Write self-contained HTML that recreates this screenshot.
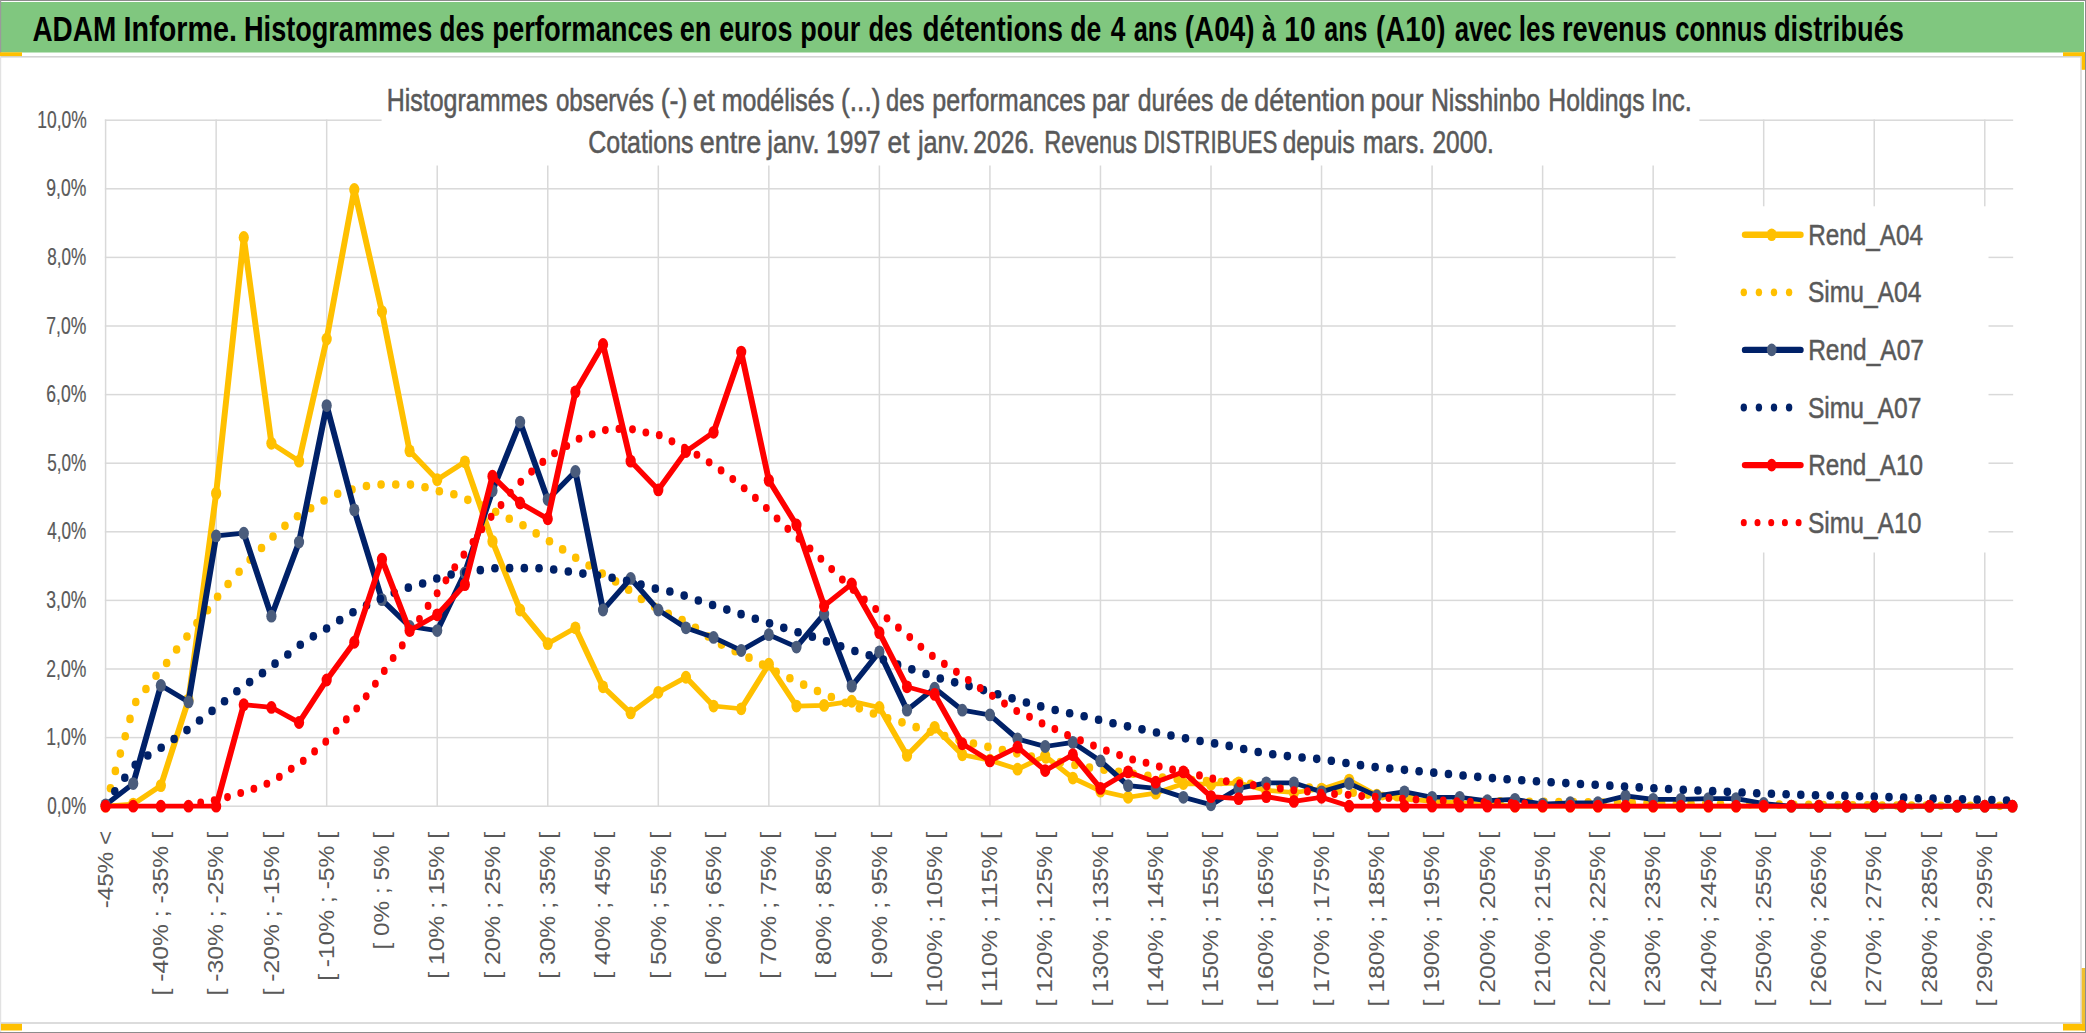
<!DOCTYPE html>
<html><head><meta charset="utf-8"><title>ADAM Informe</title>
<style>html,body{margin:0;padding:0;background:#fff;width:2086px;height:1033px;overflow:hidden}</style>
</head><body>
<svg width="2086" height="1033" viewBox="0 0 2086 1033" style="display:block;font-family:'Liberation Sans',sans-serif">
<rect x="0" y="0" width="2086" height="1033" fill="#FFFFFF"/>
<rect x="0" y="0" width="2086" height="1" fill="#8C8C8C"/>
<rect x="1" y="2" width="2083" height="50.5" fill="#80C77F"/>
<rect x="0" y="0" width="1.2" height="53" fill="#9A9A9A"/>
<rect x="0" y="53" width="1.2" height="980" fill="#E2E2E2"/>
<rect x="2085" y="0" width="1" height="1033" fill="#8C8C8C"/>
<rect x="0" y="1032" width="2086" height="1" fill="#8C8C8C"/>
<rect x="1" y="56" width="2080" height="1.6" fill="#D4D4D4"/>
<rect x="1" y="1022.2" width="2080" height="1.6" fill="#D4D4D4"/>
<rect x="2080.3" y="56" width="1.4" height="967" fill="#D4D4D4"/>
<rect x="0" y="52.3" width="22" height="3.8" fill="#FFC000"/>
<rect x="2063" y="52.3" width="22" height="3.8" fill="#FFC000"/>
<rect x="2081.7" y="52.3" width="3.3" height="17.5" fill="#FFC000"/>
<rect x="2081.7" y="968" width="3.3" height="62.5" fill="#F0C030"/>
<rect x="1" y="1023.8" width="21" height="6.7" fill="#FFC000"/>
<rect x="2063" y="1023.8" width="22" height="6.7" fill="#FFC000"/>
<rect x="104.85" y="805.45" width="1908.32" height="1.5" fill="#D9D9D9"/>
<rect x="104.85" y="736.85" width="1908.32" height="1.5" fill="#D9D9D9"/>
<rect x="104.85" y="668.25" width="1908.32" height="1.5" fill="#D9D9D9"/>
<rect x="104.85" y="599.65" width="1908.32" height="1.5" fill="#D9D9D9"/>
<rect x="104.85" y="531.05" width="1908.32" height="1.5" fill="#D9D9D9"/>
<rect x="104.85" y="462.45" width="1908.32" height="1.5" fill="#D9D9D9"/>
<rect x="104.85" y="393.85" width="1908.32" height="1.5" fill="#D9D9D9"/>
<rect x="104.85" y="325.25" width="1908.32" height="1.5" fill="#D9D9D9"/>
<rect x="104.85" y="256.65" width="1908.32" height="1.5" fill="#D9D9D9"/>
<rect x="104.85" y="188.05" width="1908.32" height="1.5" fill="#D9D9D9"/>
<rect x="104.85" y="119.45" width="1908.32" height="1.5" fill="#D9D9D9"/>
<rect x="104.85" y="119.45" width="1.5" height="687.50" fill="#D9D9D9"/>
<rect x="215.39" y="119.45" width="1.5" height="687.50" fill="#D9D9D9"/>
<rect x="325.93" y="119.45" width="1.5" height="687.50" fill="#D9D9D9"/>
<rect x="436.47" y="119.45" width="1.5" height="687.50" fill="#D9D9D9"/>
<rect x="547.01" y="119.45" width="1.5" height="687.50" fill="#D9D9D9"/>
<rect x="657.55" y="119.45" width="1.5" height="687.50" fill="#D9D9D9"/>
<rect x="768.09" y="119.45" width="1.5" height="687.50" fill="#D9D9D9"/>
<rect x="878.63" y="119.45" width="1.5" height="687.50" fill="#D9D9D9"/>
<rect x="989.17" y="119.45" width="1.5" height="687.50" fill="#D9D9D9"/>
<rect x="1099.71" y="119.45" width="1.5" height="687.50" fill="#D9D9D9"/>
<rect x="1210.25" y="119.45" width="1.5" height="687.50" fill="#D9D9D9"/>
<rect x="1320.79" y="119.45" width="1.5" height="687.50" fill="#D9D9D9"/>
<rect x="1431.33" y="119.45" width="1.5" height="687.50" fill="#D9D9D9"/>
<rect x="1541.87" y="119.45" width="1.5" height="687.50" fill="#D9D9D9"/>
<rect x="1652.41" y="119.45" width="1.5" height="687.50" fill="#D9D9D9"/>
<rect x="1762.95" y="119.45" width="1.5" height="687.50" fill="#D9D9D9"/>
<rect x="1873.49" y="119.45" width="1.5" height="687.50" fill="#D9D9D9"/>
<rect x="1984.03" y="119.45" width="1.5" height="687.50" fill="#D9D9D9"/>
<rect x="381.6" y="80" width="1317.8" height="85.5" fill="#FFFFFF"/>
<rect x="1675.6" y="206.3" width="312.9" height="346.2" fill="#FFFFFF"/>
<text x="32.40" y="40.90" font-size="34.50" fill="#000000" font-weight="bold" textLength="83.80" lengthAdjust="spacingAndGlyphs">ADAM</text>
<text x="123.60" y="40.90" font-size="34.50" fill="#000000" font-weight="bold" textLength="113.40" lengthAdjust="spacingAndGlyphs">Informe.</text>
<text x="244.05" y="40.90" font-size="34.50" fill="#000000" font-weight="bold" textLength="188.20" lengthAdjust="spacingAndGlyphs">Histogrammes</text>
<text x="439.55" y="40.90" font-size="34.50" fill="#000000" font-weight="bold" textLength="44.80" lengthAdjust="spacingAndGlyphs">des</text>
<text x="492.25" y="40.90" font-size="34.50" fill="#000000" font-weight="bold" textLength="181.00" lengthAdjust="spacingAndGlyphs">performances</text>
<text x="679.75" y="40.90" font-size="34.50" fill="#000000" font-weight="bold" textLength="31.60" lengthAdjust="spacingAndGlyphs">en</text>
<text x="719.15" y="40.90" font-size="34.50" fill="#000000" font-weight="bold" textLength="73.20" lengthAdjust="spacingAndGlyphs">euros</text>
<text x="800.30" y="40.90" font-size="34.50" fill="#000000" font-weight="bold" textLength="60.00" lengthAdjust="spacingAndGlyphs">pour</text>
<text x="868.60" y="40.90" font-size="34.50" fill="#000000" font-weight="bold" textLength="44.00" lengthAdjust="spacingAndGlyphs">des</text>
<text x="922.45" y="40.90" font-size="34.50" fill="#000000" font-weight="bold" textLength="140.60" lengthAdjust="spacingAndGlyphs">détentions</text>
<text x="1070.30" y="40.90" font-size="34.50" fill="#000000" font-weight="bold" textLength="31.00" lengthAdjust="spacingAndGlyphs">de</text>
<text x="1110.75" y="40.90" font-size="34.50" fill="#000000" font-weight="bold" textLength="14.60" lengthAdjust="spacingAndGlyphs">4</text>
<text x="1133.65" y="40.90" font-size="34.50" fill="#000000" font-weight="bold" textLength="43.60" lengthAdjust="spacingAndGlyphs">ans</text>
<text x="1184.80" y="40.90" font-size="34.50" fill="#000000" font-weight="bold" textLength="69.80" lengthAdjust="spacingAndGlyphs">(A04)</text>
<text x="1262.00" y="40.90" font-size="34.50" fill="#000000" font-weight="bold" textLength="13.80" lengthAdjust="spacingAndGlyphs">à</text>
<text x="1284.30" y="40.90" font-size="34.50" fill="#000000" font-weight="bold" textLength="31.20" lengthAdjust="spacingAndGlyphs">10</text>
<text x="1324.30" y="40.90" font-size="34.50" fill="#000000" font-weight="bold" textLength="43.00" lengthAdjust="spacingAndGlyphs">ans</text>
<text x="1376.05" y="40.90" font-size="34.50" fill="#000000" font-weight="bold" textLength="69.40" lengthAdjust="spacingAndGlyphs">(A10)</text>
<text x="1454.70" y="40.90" font-size="34.50" fill="#000000" font-weight="bold" textLength="57.20" lengthAdjust="spacingAndGlyphs">avec</text>
<text x="1518.80" y="40.90" font-size="34.50" fill="#000000" font-weight="bold" textLength="36.40" lengthAdjust="spacingAndGlyphs">les</text>
<text x="1562.00" y="40.90" font-size="34.50" fill="#000000" font-weight="bold" textLength="104.60" lengthAdjust="spacingAndGlyphs">revenus</text>
<text x="1675.25" y="40.90" font-size="34.50" fill="#000000" font-weight="bold" textLength="91.60" lengthAdjust="spacingAndGlyphs">connus</text>
<text x="1773.90" y="40.90" font-size="34.50" fill="#000000" font-weight="bold" textLength="130.00" lengthAdjust="spacingAndGlyphs">distribués</text>
<text x="386.70" y="111.00" font-size="31.00" fill="#595959" stroke="#595959" stroke-width="0.55" font-weight="normal" textLength="161.00" lengthAdjust="spacingAndGlyphs">Histogrammes</text>
<text x="555.95" y="111.00" font-size="31.00" fill="#595959" stroke="#595959" stroke-width="0.55" font-weight="normal" textLength="98.00" lengthAdjust="spacingAndGlyphs">observés</text>
<text x="660.65" y="111.00" font-size="31.00" fill="#595959" stroke="#595959" stroke-width="0.55" font-weight="normal" textLength="26.80" lengthAdjust="spacingAndGlyphs">(-)</text>
<text x="693.05" y="111.00" font-size="31.00" fill="#595959" stroke="#595959" stroke-width="0.55" font-weight="normal" textLength="21.60" lengthAdjust="spacingAndGlyphs">et</text>
<text x="721.65" y="111.00" font-size="31.00" fill="#595959" stroke="#595959" stroke-width="0.55" font-weight="normal" textLength="112.60" lengthAdjust="spacingAndGlyphs">modélisés</text>
<text x="841.05" y="111.00" font-size="31.00" fill="#595959" stroke="#595959" stroke-width="0.55" font-weight="normal" textLength="39.40" lengthAdjust="spacingAndGlyphs">(...)</text>
<text x="886.10" y="111.00" font-size="31.00" fill="#595959" stroke="#595959" stroke-width="0.55" font-weight="normal" textLength="38.20" lengthAdjust="spacingAndGlyphs">des</text>
<text x="932.25" y="111.00" font-size="31.00" fill="#595959" stroke="#595959" stroke-width="0.55" font-weight="normal" textLength="153.40" lengthAdjust="spacingAndGlyphs">performances</text>
<text x="1092.10" y="111.00" font-size="31.00" fill="#595959" stroke="#595959" stroke-width="0.55" font-weight="normal" textLength="37.40" lengthAdjust="spacingAndGlyphs">par</text>
<text x="1137.80" y="111.00" font-size="31.00" fill="#595959" stroke="#595959" stroke-width="0.55" font-weight="normal" textLength="75.60" lengthAdjust="spacingAndGlyphs">durées</text>
<text x="1220.75" y="111.00" font-size="31.00" fill="#595959" stroke="#595959" stroke-width="0.55" font-weight="normal" textLength="27.60" lengthAdjust="spacingAndGlyphs">de</text>
<text x="1254.35" y="111.00" font-size="31.00" fill="#595959" stroke="#595959" stroke-width="0.55" font-weight="normal" textLength="110.60" lengthAdjust="spacingAndGlyphs">détention</text>
<text x="1370.75" y="111.00" font-size="31.00" fill="#595959" stroke="#595959" stroke-width="0.55" font-weight="normal" textLength="52.80" lengthAdjust="spacingAndGlyphs">pour</text>
<text x="1430.90" y="111.00" font-size="31.00" fill="#595959" stroke="#595959" stroke-width="0.55" font-weight="normal" textLength="109.20" lengthAdjust="spacingAndGlyphs">Nisshinbo</text>
<text x="1548.30" y="111.00" font-size="31.00" fill="#595959" stroke="#595959" stroke-width="0.55" font-weight="normal" textLength="96.40" lengthAdjust="spacingAndGlyphs">Holdings</text>
<text x="1650.90" y="111.00" font-size="31.00" fill="#595959" stroke="#595959" stroke-width="0.55" font-weight="normal" textLength="41.00" lengthAdjust="spacingAndGlyphs">Inc.</text>
<text x="588.30" y="152.90" font-size="31.00" fill="#595959" stroke="#595959" stroke-width="0.55" font-weight="normal" textLength="105.20" lengthAdjust="spacingAndGlyphs">Cotations</text>
<text x="699.85" y="152.90" font-size="31.00" fill="#595959" stroke="#595959" stroke-width="0.55" font-weight="normal" textLength="61.40" lengthAdjust="spacingAndGlyphs">entre</text>
<text x="767.30" y="152.90" font-size="31.00" fill="#595959" stroke="#595959" stroke-width="0.55" font-weight="normal" textLength="52.40" lengthAdjust="spacingAndGlyphs">janv.</text>
<text x="826.10" y="152.90" font-size="31.00" fill="#595959" stroke="#595959" stroke-width="0.55" font-weight="normal" textLength="54.60" lengthAdjust="spacingAndGlyphs">1997</text>
<text x="887.50" y="152.90" font-size="31.00" fill="#595959" stroke="#595959" stroke-width="0.55" font-weight="normal" textLength="22.00" lengthAdjust="spacingAndGlyphs">et</text>
<text x="917.95" y="152.90" font-size="31.00" fill="#595959" stroke="#595959" stroke-width="0.55" font-weight="normal" textLength="51.40" lengthAdjust="spacingAndGlyphs">janv.</text>
<text x="973.35" y="152.90" font-size="31.00" fill="#595959" stroke="#595959" stroke-width="0.55" font-weight="normal" textLength="61.60" lengthAdjust="spacingAndGlyphs">2026.</text>
<text x="1044.20" y="152.90" font-size="31.00" fill="#595959" stroke="#595959" stroke-width="0.55" font-weight="normal" textLength="92.80" lengthAdjust="spacingAndGlyphs">Revenus</text>
<text x="1143.50" y="152.90" font-size="31.00" fill="#595959" stroke="#595959" stroke-width="0.55" font-weight="normal" textLength="133.80" lengthAdjust="spacingAndGlyphs">DISTRIBUES</text>
<text x="1282.70" y="152.90" font-size="31.00" fill="#595959" stroke="#595959" stroke-width="0.55" font-weight="normal" textLength="72.00" lengthAdjust="spacingAndGlyphs">depuis</text>
<text x="1362.75" y="152.90" font-size="31.00" fill="#595959" stroke="#595959" stroke-width="0.55" font-weight="normal" textLength="62.40" lengthAdjust="spacingAndGlyphs">mars.</text>
<text x="1432.45" y="152.90" font-size="31.00" fill="#595959" stroke="#595959" stroke-width="0.55" font-weight="normal" textLength="61.40" lengthAdjust="spacingAndGlyphs">2000.</text>
<text x="47.30" y="813.80" font-size="23.40" fill="#595959" stroke="#595959" stroke-width="0.2" font-weight="normal" textLength="39.00" lengthAdjust="spacingAndGlyphs">0,0%</text>
<text x="46.30" y="745.20" font-size="23.40" fill="#595959" stroke="#595959" stroke-width="0.2" font-weight="normal" textLength="40.00" lengthAdjust="spacingAndGlyphs">1,0%</text>
<text x="46.30" y="676.60" font-size="23.40" fill="#595959" stroke="#595959" stroke-width="0.2" font-weight="normal" textLength="40.00" lengthAdjust="spacingAndGlyphs">2,0%</text>
<text x="46.30" y="608.00" font-size="23.40" fill="#595959" stroke="#595959" stroke-width="0.2" font-weight="normal" textLength="40.00" lengthAdjust="spacingAndGlyphs">3,0%</text>
<text x="47.30" y="539.40" font-size="23.40" fill="#595959" stroke="#595959" stroke-width="0.2" font-weight="normal" textLength="39.00" lengthAdjust="spacingAndGlyphs">4,0%</text>
<text x="47.30" y="470.80" font-size="23.40" fill="#595959" stroke="#595959" stroke-width="0.2" font-weight="normal" textLength="39.00" lengthAdjust="spacingAndGlyphs">5,0%</text>
<text x="46.30" y="402.20" font-size="23.40" fill="#595959" stroke="#595959" stroke-width="0.2" font-weight="normal" textLength="40.00" lengthAdjust="spacingAndGlyphs">6,0%</text>
<text x="46.30" y="333.60" font-size="23.40" fill="#595959" stroke="#595959" stroke-width="0.2" font-weight="normal" textLength="40.00" lengthAdjust="spacingAndGlyphs">7,0%</text>
<text x="47.30" y="265.00" font-size="23.40" fill="#595959" stroke="#595959" stroke-width="0.2" font-weight="normal" textLength="39.00" lengthAdjust="spacingAndGlyphs">8,0%</text>
<text x="46.30" y="196.40" font-size="23.40" fill="#595959" stroke="#595959" stroke-width="0.2" font-weight="normal" textLength="40.00" lengthAdjust="spacingAndGlyphs">9,0%</text>
<text x="37.30" y="127.80" font-size="23.40" fill="#595959" stroke="#595959" stroke-width="0.2" font-weight="normal" textLength="49.40" lengthAdjust="spacingAndGlyphs">10,0%</text>
<text x="1808.20" y="244.70" font-size="29.80" fill="#595959" stroke="#595959" stroke-width="0.5" font-weight="normal" textLength="114.70" lengthAdjust="spacingAndGlyphs">Rend_A04</text>
<text x="1807.90" y="302.30" font-size="29.80" fill="#595959" stroke="#595959" stroke-width="0.5" font-weight="normal" textLength="113.50" lengthAdjust="spacingAndGlyphs">Simu_A04</text>
<text x="1808.20" y="359.90" font-size="29.80" fill="#595959" stroke="#595959" stroke-width="0.5" font-weight="normal" textLength="115.70" lengthAdjust="spacingAndGlyphs">Rend_A07</text>
<text x="1807.90" y="417.50" font-size="29.80" fill="#595959" stroke="#595959" stroke-width="0.5" font-weight="normal" textLength="113.50" lengthAdjust="spacingAndGlyphs">Simu_A07</text>
<text x="1808.20" y="475.10" font-size="29.80" fill="#595959" stroke="#595959" stroke-width="0.5" font-weight="normal" textLength="114.70" lengthAdjust="spacingAndGlyphs">Rend_A10</text>
<text x="1807.90" y="532.70" font-size="29.80" fill="#595959" stroke="#595959" stroke-width="0.5" font-weight="normal" textLength="113.50" lengthAdjust="spacingAndGlyphs">Simu_A10</text>
<text transform="translate(112.80,831.00) rotate(-90)" x="0" y="0" font-size="21.40" fill="#595959" text-anchor="end" textLength="77.20" lengthAdjust="spacingAndGlyphs">-45% &lt;</text>
<text transform="translate(168.07,832.00) rotate(-90)" x="0" y="0" font-size="21.40" fill="#595959" text-anchor="end" textLength="163.40" lengthAdjust="spacingAndGlyphs">[ -40% ; -35% [</text>
<text transform="translate(223.34,832.00) rotate(-90)" x="0" y="0" font-size="21.40" fill="#595959" text-anchor="end" textLength="163.40" lengthAdjust="spacingAndGlyphs">[ -30% ; -25% [</text>
<text transform="translate(278.61,832.00) rotate(-90)" x="0" y="0" font-size="21.40" fill="#595959" text-anchor="end" textLength="163.40" lengthAdjust="spacingAndGlyphs">[ -20% ; -15% [</text>
<text transform="translate(333.88,832.00) rotate(-90)" x="0" y="0" font-size="21.40" fill="#595959" text-anchor="end" textLength="148.80" lengthAdjust="spacingAndGlyphs">[ -10% ; -5% [</text>
<text transform="translate(389.15,832.00) rotate(-90)" x="0" y="0" font-size="21.40" fill="#595959" text-anchor="end" textLength="117.40" lengthAdjust="spacingAndGlyphs">[ 0% ; 5% [</text>
<text transform="translate(444.42,832.00) rotate(-90)" x="0" y="0" font-size="21.40" fill="#595959" text-anchor="end" textLength="146.80" lengthAdjust="spacingAndGlyphs">[ 10% ; 15% [</text>
<text transform="translate(499.69,832.00) rotate(-90)" x="0" y="0" font-size="21.40" fill="#595959" text-anchor="end" textLength="146.80" lengthAdjust="spacingAndGlyphs">[ 20% ; 25% [</text>
<text transform="translate(554.96,832.00) rotate(-90)" x="0" y="0" font-size="21.40" fill="#595959" text-anchor="end" textLength="146.80" lengthAdjust="spacingAndGlyphs">[ 30% ; 35% [</text>
<text transform="translate(610.23,832.00) rotate(-90)" x="0" y="0" font-size="21.40" fill="#595959" text-anchor="end" textLength="146.80" lengthAdjust="spacingAndGlyphs">[ 40% ; 45% [</text>
<text transform="translate(665.50,832.00) rotate(-90)" x="0" y="0" font-size="21.40" fill="#595959" text-anchor="end" textLength="146.80" lengthAdjust="spacingAndGlyphs">[ 50% ; 55% [</text>
<text transform="translate(720.77,832.00) rotate(-90)" x="0" y="0" font-size="21.40" fill="#595959" text-anchor="end" textLength="146.80" lengthAdjust="spacingAndGlyphs">[ 60% ; 65% [</text>
<text transform="translate(776.04,832.00) rotate(-90)" x="0" y="0" font-size="21.40" fill="#595959" text-anchor="end" textLength="146.80" lengthAdjust="spacingAndGlyphs">[ 70% ; 75% [</text>
<text transform="translate(831.31,832.00) rotate(-90)" x="0" y="0" font-size="21.40" fill="#595959" text-anchor="end" textLength="146.80" lengthAdjust="spacingAndGlyphs">[ 80% ; 85% [</text>
<text transform="translate(886.58,832.00) rotate(-90)" x="0" y="0" font-size="21.40" fill="#595959" text-anchor="end" textLength="146.80" lengthAdjust="spacingAndGlyphs">[ 90% ; 95% [</text>
<text transform="translate(941.85,832.00) rotate(-90)" x="0" y="0" font-size="21.40" fill="#595959" text-anchor="end" textLength="174.40" lengthAdjust="spacingAndGlyphs">[ 100% ; 105% [</text>
<text transform="translate(997.12,832.00) rotate(-90)" x="0" y="0" font-size="21.40" fill="#595959" text-anchor="end" textLength="174.40" lengthAdjust="spacingAndGlyphs">[ 110% ; 115% [</text>
<text transform="translate(1052.39,832.00) rotate(-90)" x="0" y="0" font-size="21.40" fill="#595959" text-anchor="end" textLength="174.40" lengthAdjust="spacingAndGlyphs">[ 120% ; 125% [</text>
<text transform="translate(1107.66,832.00) rotate(-90)" x="0" y="0" font-size="21.40" fill="#595959" text-anchor="end" textLength="174.40" lengthAdjust="spacingAndGlyphs">[ 130% ; 135% [</text>
<text transform="translate(1162.93,832.00) rotate(-90)" x="0" y="0" font-size="21.40" fill="#595959" text-anchor="end" textLength="174.40" lengthAdjust="spacingAndGlyphs">[ 140% ; 145% [</text>
<text transform="translate(1218.20,832.00) rotate(-90)" x="0" y="0" font-size="21.40" fill="#595959" text-anchor="end" textLength="174.40" lengthAdjust="spacingAndGlyphs">[ 150% ; 155% [</text>
<text transform="translate(1273.47,832.00) rotate(-90)" x="0" y="0" font-size="21.40" fill="#595959" text-anchor="end" textLength="174.40" lengthAdjust="spacingAndGlyphs">[ 160% ; 165% [</text>
<text transform="translate(1328.74,832.00) rotate(-90)" x="0" y="0" font-size="21.40" fill="#595959" text-anchor="end" textLength="174.40" lengthAdjust="spacingAndGlyphs">[ 170% ; 175% [</text>
<text transform="translate(1384.01,832.00) rotate(-90)" x="0" y="0" font-size="21.40" fill="#595959" text-anchor="end" textLength="174.40" lengthAdjust="spacingAndGlyphs">[ 180% ; 185% [</text>
<text transform="translate(1439.28,832.00) rotate(-90)" x="0" y="0" font-size="21.40" fill="#595959" text-anchor="end" textLength="174.40" lengthAdjust="spacingAndGlyphs">[ 190% ; 195% [</text>
<text transform="translate(1494.55,832.00) rotate(-90)" x="0" y="0" font-size="21.40" fill="#595959" text-anchor="end" textLength="174.40" lengthAdjust="spacingAndGlyphs">[ 200% ; 205% [</text>
<text transform="translate(1549.82,832.00) rotate(-90)" x="0" y="0" font-size="21.40" fill="#595959" text-anchor="end" textLength="174.40" lengthAdjust="spacingAndGlyphs">[ 210% ; 215% [</text>
<text transform="translate(1605.09,832.00) rotate(-90)" x="0" y="0" font-size="21.40" fill="#595959" text-anchor="end" textLength="174.40" lengthAdjust="spacingAndGlyphs">[ 220% ; 225% [</text>
<text transform="translate(1660.36,832.00) rotate(-90)" x="0" y="0" font-size="21.40" fill="#595959" text-anchor="end" textLength="174.40" lengthAdjust="spacingAndGlyphs">[ 230% ; 235% [</text>
<text transform="translate(1715.63,832.00) rotate(-90)" x="0" y="0" font-size="21.40" fill="#595959" text-anchor="end" textLength="174.40" lengthAdjust="spacingAndGlyphs">[ 240% ; 245% [</text>
<text transform="translate(1770.90,832.00) rotate(-90)" x="0" y="0" font-size="21.40" fill="#595959" text-anchor="end" textLength="174.40" lengthAdjust="spacingAndGlyphs">[ 250% ; 255% [</text>
<text transform="translate(1826.17,832.00) rotate(-90)" x="0" y="0" font-size="21.40" fill="#595959" text-anchor="end" textLength="174.40" lengthAdjust="spacingAndGlyphs">[ 260% ; 265% [</text>
<text transform="translate(1881.44,832.00) rotate(-90)" x="0" y="0" font-size="21.40" fill="#595959" text-anchor="end" textLength="174.40" lengthAdjust="spacingAndGlyphs">[ 270% ; 275% [</text>
<text transform="translate(1936.71,832.00) rotate(-90)" x="0" y="0" font-size="21.40" fill="#595959" text-anchor="end" textLength="174.40" lengthAdjust="spacingAndGlyphs">[ 280% ; 285% [</text>
<text transform="translate(1991.98,832.00) rotate(-90)" x="0" y="0" font-size="21.40" fill="#595959" text-anchor="end" textLength="174.40" lengthAdjust="spacingAndGlyphs">[ 290% ; 295% [</text>
<g transform="scale(1,0.78)"><polyline points="105.60,1033.59 133.23,1030.95 160.87,1007.21 188.50,897.27 216.14,632.54 243.78,304.49 271.41,568.34 299.05,591.21 326.68,434.66 354.31,242.93 381.95,399.48 409.59,578.02 437.22,614.95 464.86,592.09 492.49,694.11 520.12,782.06 547.76,825.15 575.39,804.92 603.03,880.56 630.67,913.98 658.30,887.59 685.94,868.25 713.57,905.18 741.21,908.70 768.84,851.54 796.48,905.18 824.11,904.31 851.75,899.03 879.38,906.94 907.02,968.51 934.65,932.45 962.29,967.63 989.92,974.66 1017.56,986.10 1045.19,969.39 1072.83,997.53 1100.46,1014.24 1128.10,1022.16 1155.73,1016.88 1183.37,1004.57 1211.00,1005.45 1238.63,1003.69 1266.27,1013.36 1293.90,1016.00 1321.54,1011.60 1349.17,1000.17 1376.81,1019.52 1404.44,1023.92 1432.08,1027.43 1459.71,1029.19 1487.35,1030.95 1514.98,1033.59 1542.62,1033.59 1570.25,1033.59 1597.89,1033.59 1625.53,1033.59 1653.16,1033.59 1680.80,1033.59 1708.43,1033.59 1736.07,1033.59 1763.70,1033.59 1791.34,1033.59 1818.97,1033.59 1846.61,1033.59 1874.24,1033.59 1901.88,1033.59 1929.51,1033.59 1957.14,1033.59 1984.78,1033.59 2012.41,1033.59" fill="none" stroke="#FFC000" stroke-width="6.0" stroke-linejoin="round" stroke-linecap="round"/></g>
<ellipse cx="105.60" cy="806.20" rx="5.1" ry="6.4" fill="#FFC000"/>
<ellipse cx="133.23" cy="804.14" rx="5.1" ry="6.4" fill="#FFC000"/>
<ellipse cx="160.87" cy="785.62" rx="5.1" ry="6.4" fill="#FFC000"/>
<ellipse cx="188.50" cy="699.87" rx="5.1" ry="6.4" fill="#FFC000"/>
<ellipse cx="216.14" cy="493.38" rx="5.1" ry="6.4" fill="#FFC000"/>
<ellipse cx="243.78" cy="237.51" rx="5.1" ry="6.4" fill="#FFC000"/>
<ellipse cx="271.41" cy="443.31" rx="5.1" ry="6.4" fill="#FFC000"/>
<ellipse cx="299.05" cy="461.14" rx="5.1" ry="6.4" fill="#FFC000"/>
<ellipse cx="326.68" cy="339.03" rx="5.1" ry="6.4" fill="#FFC000"/>
<ellipse cx="354.31" cy="189.49" rx="5.1" ry="6.4" fill="#FFC000"/>
<ellipse cx="381.95" cy="311.59" rx="5.1" ry="6.4" fill="#FFC000"/>
<ellipse cx="409.59" cy="450.85" rx="5.1" ry="6.4" fill="#FFC000"/>
<ellipse cx="437.22" cy="479.66" rx="5.1" ry="6.4" fill="#FFC000"/>
<ellipse cx="464.86" cy="461.83" rx="5.1" ry="6.4" fill="#FFC000"/>
<ellipse cx="492.49" cy="541.40" rx="5.1" ry="6.4" fill="#FFC000"/>
<ellipse cx="520.12" cy="610.00" rx="5.1" ry="6.4" fill="#FFC000"/>
<ellipse cx="547.76" cy="643.62" rx="5.1" ry="6.4" fill="#FFC000"/>
<ellipse cx="575.39" cy="627.84" rx="5.1" ry="6.4" fill="#FFC000"/>
<ellipse cx="603.03" cy="686.84" rx="5.1" ry="6.4" fill="#FFC000"/>
<ellipse cx="630.67" cy="712.90" rx="5.1" ry="6.4" fill="#FFC000"/>
<ellipse cx="658.30" cy="692.32" rx="5.1" ry="6.4" fill="#FFC000"/>
<ellipse cx="685.94" cy="677.23" rx="5.1" ry="6.4" fill="#FFC000"/>
<ellipse cx="713.57" cy="706.04" rx="5.1" ry="6.4" fill="#FFC000"/>
<ellipse cx="741.21" cy="708.79" rx="5.1" ry="6.4" fill="#FFC000"/>
<ellipse cx="768.84" cy="664.20" rx="5.1" ry="6.4" fill="#FFC000"/>
<ellipse cx="796.48" cy="706.04" rx="5.1" ry="6.4" fill="#FFC000"/>
<ellipse cx="824.11" cy="705.36" rx="5.1" ry="6.4" fill="#FFC000"/>
<ellipse cx="851.75" cy="701.24" rx="5.1" ry="6.4" fill="#FFC000"/>
<ellipse cx="879.38" cy="707.42" rx="5.1" ry="6.4" fill="#FFC000"/>
<ellipse cx="907.02" cy="755.44" rx="5.1" ry="6.4" fill="#FFC000"/>
<ellipse cx="934.65" cy="727.31" rx="5.1" ry="6.4" fill="#FFC000"/>
<ellipse cx="962.29" cy="754.75" rx="5.1" ry="6.4" fill="#FFC000"/>
<ellipse cx="989.92" cy="760.24" rx="5.1" ry="6.4" fill="#FFC000"/>
<ellipse cx="1017.56" cy="769.16" rx="5.1" ry="6.4" fill="#FFC000"/>
<ellipse cx="1045.19" cy="756.12" rx="5.1" ry="6.4" fill="#FFC000"/>
<ellipse cx="1072.83" cy="778.07" rx="5.1" ry="6.4" fill="#FFC000"/>
<ellipse cx="1100.46" cy="791.11" rx="5.1" ry="6.4" fill="#FFC000"/>
<ellipse cx="1128.10" cy="797.28" rx="5.1" ry="6.4" fill="#FFC000"/>
<ellipse cx="1155.73" cy="793.17" rx="5.1" ry="6.4" fill="#FFC000"/>
<ellipse cx="1183.37" cy="783.56" rx="5.1" ry="6.4" fill="#FFC000"/>
<ellipse cx="1211.00" cy="784.25" rx="5.1" ry="6.4" fill="#FFC000"/>
<ellipse cx="1238.63" cy="782.88" rx="5.1" ry="6.4" fill="#FFC000"/>
<ellipse cx="1266.27" cy="790.42" rx="5.1" ry="6.4" fill="#FFC000"/>
<ellipse cx="1293.90" cy="792.48" rx="5.1" ry="6.4" fill="#FFC000"/>
<ellipse cx="1321.54" cy="789.05" rx="5.1" ry="6.4" fill="#FFC000"/>
<ellipse cx="1349.17" cy="780.13" rx="5.1" ry="6.4" fill="#FFC000"/>
<ellipse cx="1376.81" cy="795.22" rx="5.1" ry="6.4" fill="#FFC000"/>
<ellipse cx="1404.44" cy="798.65" rx="5.1" ry="6.4" fill="#FFC000"/>
<ellipse cx="1432.08" cy="801.40" rx="5.1" ry="6.4" fill="#FFC000"/>
<ellipse cx="1459.71" cy="802.77" rx="5.1" ry="6.4" fill="#FFC000"/>
<ellipse cx="1487.35" cy="804.14" rx="5.1" ry="6.4" fill="#FFC000"/>
<ellipse cx="1514.98" cy="806.20" rx="5.1" ry="6.4" fill="#FFC000"/>
<ellipse cx="1542.62" cy="806.20" rx="5.1" ry="6.4" fill="#FFC000"/>
<ellipse cx="1570.25" cy="806.20" rx="5.1" ry="6.4" fill="#FFC000"/>
<ellipse cx="1597.89" cy="806.20" rx="5.1" ry="6.4" fill="#FFC000"/>
<ellipse cx="1625.53" cy="806.20" rx="5.1" ry="6.4" fill="#FFC000"/>
<ellipse cx="1653.16" cy="806.20" rx="5.1" ry="6.4" fill="#FFC000"/>
<ellipse cx="1680.80" cy="806.20" rx="5.1" ry="6.4" fill="#FFC000"/>
<ellipse cx="1708.43" cy="806.20" rx="5.1" ry="6.4" fill="#FFC000"/>
<ellipse cx="1736.07" cy="806.20" rx="5.1" ry="6.4" fill="#FFC000"/>
<ellipse cx="1763.70" cy="806.20" rx="5.1" ry="6.4" fill="#FFC000"/>
<ellipse cx="1791.34" cy="806.20" rx="5.1" ry="6.4" fill="#FFC000"/>
<ellipse cx="1818.97" cy="806.20" rx="5.1" ry="6.4" fill="#FFC000"/>
<ellipse cx="1846.61" cy="806.20" rx="5.1" ry="6.4" fill="#FFC000"/>
<ellipse cx="1874.24" cy="806.20" rx="5.1" ry="6.4" fill="#FFC000"/>
<ellipse cx="1901.88" cy="806.20" rx="5.1" ry="6.4" fill="#FFC000"/>
<ellipse cx="1929.51" cy="806.20" rx="5.1" ry="6.4" fill="#FFC000"/>
<ellipse cx="1957.14" cy="806.20" rx="5.1" ry="6.4" fill="#FFC000"/>
<ellipse cx="1984.78" cy="806.20" rx="5.1" ry="6.4" fill="#FFC000"/>
<ellipse cx="2012.41" cy="806.20" rx="5.1" ry="6.4" fill="#FFC000"/>
<ellipse cx="110.44" cy="788.21" rx="3.8" ry="4.3" fill="#FFC000"/>
<ellipse cx="115.39" cy="770.90" rx="3.8" ry="4.3" fill="#FFC000"/>
<ellipse cx="120.35" cy="753.61" rx="3.8" ry="4.3" fill="#FFC000"/>
<ellipse cx="125.24" cy="736.28" rx="3.8" ry="4.3" fill="#FFC000"/>
<ellipse cx="130.02" cy="718.90" rx="3.8" ry="4.3" fill="#FFC000"/>
<ellipse cx="135.78" cy="702.02" rx="3.8" ry="4.3" fill="#FFC000"/>
<ellipse cx="145.94" cy="689.04" rx="3.8" ry="4.3" fill="#FFC000"/>
<ellipse cx="156.02" cy="675.68" rx="3.8" ry="4.3" fill="#FFC000"/>
<ellipse cx="166.63" cy="662.97" rx="3.8" ry="4.3" fill="#FFC000"/>
<ellipse cx="176.60" cy="649.47" rx="3.8" ry="4.3" fill="#FFC000"/>
<ellipse cx="186.95" cy="636.43" rx="3.8" ry="4.3" fill="#FFC000"/>
<ellipse cx="196.94" cy="622.94" rx="3.8" ry="4.3" fill="#FFC000"/>
<ellipse cx="207.48" cy="610.14" rx="3.8" ry="4.3" fill="#FFC000"/>
<ellipse cx="217.60" cy="596.81" rx="3.8" ry="4.3" fill="#FFC000"/>
<ellipse cx="228.08" cy="583.93" rx="3.8" ry="4.3" fill="#FFC000"/>
<ellipse cx="239.09" cy="571.76" rx="3.8" ry="4.3" fill="#FFC000"/>
<ellipse cx="250.13" cy="559.62" rx="3.8" ry="4.3" fill="#FFC000"/>
<ellipse cx="261.53" cy="548.02" rx="3.8" ry="4.3" fill="#FFC000"/>
<ellipse cx="273.01" cy="536.55" rx="3.8" ry="4.3" fill="#FFC000"/>
<ellipse cx="284.97" cy="525.87" rx="3.8" ry="4.3" fill="#FFC000"/>
<ellipse cx="297.49" cy="516.26" rx="3.8" ry="4.3" fill="#FFC000"/>
<ellipse cx="310.69" cy="508.19" rx="3.8" ry="4.3" fill="#FFC000"/>
<ellipse cx="324.03" cy="500.47" rx="3.8" ry="4.3" fill="#FFC000"/>
<ellipse cx="337.71" cy="493.77" rx="3.8" ry="4.3" fill="#FFC000"/>
<ellipse cx="352.00" cy="489.49" rx="3.8" ry="4.3" fill="#FFC000"/>
<ellipse cx="366.44" cy="486.06" rx="3.8" ry="4.3" fill="#FFC000"/>
<ellipse cx="381.08" cy="484.54" rx="3.8" ry="4.3" fill="#FFC000"/>
<ellipse cx="395.78" cy="484.47" rx="3.8" ry="4.3" fill="#FFC000"/>
<ellipse cx="410.48" cy="484.58" rx="3.8" ry="4.3" fill="#FFC000"/>
<ellipse cx="425.01" cy="487.24" rx="3.8" ry="4.3" fill="#FFC000"/>
<ellipse cx="439.36" cy="491.20" rx="3.8" ry="4.3" fill="#FFC000"/>
<ellipse cx="453.86" cy="494.19" rx="3.8" ry="4.3" fill="#FFC000"/>
<ellipse cx="467.83" cy="499.85" rx="3.8" ry="4.3" fill="#FFC000"/>
<ellipse cx="481.78" cy="505.65" rx="3.8" ry="4.3" fill="#FFC000"/>
<ellipse cx="495.66" cy="511.71" rx="3.8" ry="4.3" fill="#FFC000"/>
<ellipse cx="509.25" cy="518.72" rx="3.8" ry="4.3" fill="#FFC000"/>
<ellipse cx="522.97" cy="525.30" rx="3.8" ry="4.3" fill="#FFC000"/>
<ellipse cx="536.16" cy="533.39" rx="3.8" ry="4.3" fill="#FFC000"/>
<ellipse cx="549.47" cy="541.19" rx="3.8" ry="4.3" fill="#FFC000"/>
<ellipse cx="562.62" cy="549.41" rx="3.8" ry="4.3" fill="#FFC000"/>
<ellipse cx="575.71" cy="557.77" rx="3.8" ry="4.3" fill="#FFC000"/>
<ellipse cx="589.06" cy="565.46" rx="3.8" ry="4.3" fill="#FFC000"/>
<ellipse cx="602.23" cy="573.61" rx="3.8" ry="4.3" fill="#FFC000"/>
<ellipse cx="615.55" cy="581.38" rx="3.8" ry="4.3" fill="#FFC000"/>
<ellipse cx="628.62" cy="589.79" rx="3.8" ry="4.3" fill="#FFC000"/>
<ellipse cx="641.38" cy="598.91" rx="3.8" ry="4.3" fill="#FFC000"/>
<ellipse cx="654.66" cy="606.79" rx="3.8" ry="4.3" fill="#FFC000"/>
<ellipse cx="668.26" cy="613.75" rx="3.8" ry="4.3" fill="#FFC000"/>
<ellipse cx="682.10" cy="619.96" rx="3.8" ry="4.3" fill="#FFC000"/>
<ellipse cx="695.41" cy="627.73" rx="3.8" ry="4.3" fill="#FFC000"/>
<ellipse cx="708.32" cy="636.52" rx="3.8" ry="4.3" fill="#FFC000"/>
<ellipse cx="721.51" cy="644.62" rx="3.8" ry="4.3" fill="#FFC000"/>
<ellipse cx="735.21" cy="651.27" rx="3.8" ry="4.3" fill="#FFC000"/>
<ellipse cx="748.99" cy="657.66" rx="3.8" ry="4.3" fill="#FFC000"/>
<ellipse cx="762.58" cy="664.67" rx="3.8" ry="4.3" fill="#FFC000"/>
<ellipse cx="776.16" cy="671.70" rx="3.8" ry="4.3" fill="#FFC000"/>
<ellipse cx="789.88" cy="678.30" rx="3.8" ry="4.3" fill="#FFC000"/>
<ellipse cx="803.67" cy="684.67" rx="3.8" ry="4.3" fill="#FFC000"/>
<ellipse cx="817.48" cy="690.94" rx="3.8" ry="4.3" fill="#FFC000"/>
<ellipse cx="831.36" cy="697.01" rx="3.8" ry="4.3" fill="#FFC000"/>
<ellipse cx="845.30" cy="702.83" rx="3.8" ry="4.3" fill="#FFC000"/>
<ellipse cx="859.33" cy="708.34" rx="3.8" ry="4.3" fill="#FFC000"/>
<ellipse cx="873.44" cy="713.48" rx="3.8" ry="4.3" fill="#FFC000"/>
<ellipse cx="887.65" cy="718.19" rx="3.8" ry="4.3" fill="#FFC000"/>
<ellipse cx="901.97" cy="722.33" rx="3.8" ry="4.3" fill="#FFC000"/>
<ellipse cx="916.15" cy="727.14" rx="3.8" ry="4.3" fill="#FFC000"/>
<ellipse cx="930.39" cy="731.72" rx="3.8" ry="4.3" fill="#FFC000"/>
<ellipse cx="944.69" cy="735.99" rx="3.8" ry="4.3" fill="#FFC000"/>
<ellipse cx="959.05" cy="739.90" rx="3.8" ry="4.3" fill="#FFC000"/>
<ellipse cx="973.46" cy="743.52" rx="3.8" ry="4.3" fill="#FFC000"/>
<ellipse cx="987.92" cy="746.83" rx="3.8" ry="4.3" fill="#FFC000"/>
<ellipse cx="1002.40" cy="750.02" rx="3.8" ry="4.3" fill="#FFC000"/>
<ellipse cx="1016.85" cy="753.37" rx="3.8" ry="4.3" fill="#FFC000"/>
<ellipse cx="1031.32" cy="756.59" rx="3.8" ry="4.3" fill="#FFC000"/>
<ellipse cx="1045.85" cy="759.43" rx="3.8" ry="4.3" fill="#FFC000"/>
<ellipse cx="1060.39" cy="762.13" rx="3.8" ry="4.3" fill="#FFC000"/>
<ellipse cx="1074.91" cy="764.98" rx="3.8" ry="4.3" fill="#FFC000"/>
<ellipse cx="1089.45" cy="767.64" rx="3.8" ry="4.3" fill="#FFC000"/>
<ellipse cx="1104.06" cy="769.76" rx="3.8" ry="4.3" fill="#FFC000"/>
<ellipse cx="1118.67" cy="771.70" rx="3.8" ry="4.3" fill="#FFC000"/>
<ellipse cx="1133.28" cy="773.79" rx="3.8" ry="4.3" fill="#FFC000"/>
<ellipse cx="1147.89" cy="775.84" rx="3.8" ry="4.3" fill="#FFC000"/>
<ellipse cx="1162.51" cy="777.67" rx="3.8" ry="4.3" fill="#FFC000"/>
<ellipse cx="1177.17" cy="779.01" rx="3.8" ry="4.3" fill="#FFC000"/>
<ellipse cx="1191.85" cy="780.09" rx="3.8" ry="4.3" fill="#FFC000"/>
<ellipse cx="1206.53" cy="781.04" rx="3.8" ry="4.3" fill="#FFC000"/>
<ellipse cx="1221.21" cy="781.93" rx="3.8" ry="4.3" fill="#FFC000"/>
<ellipse cx="1235.89" cy="782.87" rx="3.8" ry="4.3" fill="#FFC000"/>
<ellipse cx="1250.57" cy="783.79" rx="3.8" ry="4.3" fill="#FFC000"/>
<ellipse cx="1265.26" cy="784.63" rx="3.8" ry="4.3" fill="#FFC000"/>
<ellipse cx="1279.94" cy="785.47" rx="3.8" ry="4.3" fill="#FFC000"/>
<ellipse cx="1294.62" cy="786.39" rx="3.8" ry="4.3" fill="#FFC000"/>
<ellipse cx="1309.30" cy="787.46" rx="3.8" ry="4.3" fill="#FFC000"/>
<ellipse cx="1323.96" cy="788.79" rx="3.8" ry="4.3" fill="#FFC000"/>
<ellipse cx="1338.58" cy="790.74" rx="3.8" ry="4.3" fill="#FFC000"/>
<ellipse cx="1353.18" cy="792.80" rx="3.8" ry="4.3" fill="#FFC000"/>
<ellipse cx="1367.81" cy="794.58" rx="3.8" ry="4.3" fill="#FFC000"/>
<ellipse cx="1382.46" cy="796.12" rx="3.8" ry="4.3" fill="#FFC000"/>
<ellipse cx="1397.14" cy="797.16" rx="3.8" ry="4.3" fill="#FFC000"/>
<ellipse cx="1411.82" cy="798.05" rx="3.8" ry="4.3" fill="#FFC000"/>
<ellipse cx="1426.51" cy="798.85" rx="3.8" ry="4.3" fill="#FFC000"/>
<ellipse cx="1441.20" cy="799.56" rx="3.8" ry="4.3" fill="#FFC000"/>
<ellipse cx="1455.89" cy="800.17" rx="3.8" ry="4.3" fill="#FFC000"/>
<ellipse cx="1470.58" cy="800.69" rx="3.8" ry="4.3" fill="#FFC000"/>
<ellipse cx="1485.28" cy="801.10" rx="3.8" ry="4.3" fill="#FFC000"/>
<ellipse cx="1499.98" cy="801.40" rx="3.8" ry="4.3" fill="#FFC000"/>
<ellipse cx="1514.68" cy="801.61" rx="3.8" ry="4.3" fill="#FFC000"/>
<ellipse cx="1529.38" cy="801.78" rx="3.8" ry="4.3" fill="#FFC000"/>
<ellipse cx="1544.07" cy="801.92" rx="3.8" ry="4.3" fill="#FFC000"/>
<ellipse cx="1558.77" cy="802.04" rx="3.8" ry="4.3" fill="#FFC000"/>
<ellipse cx="1573.47" cy="802.17" rx="3.8" ry="4.3" fill="#FFC000"/>
<ellipse cx="1588.17" cy="802.30" rx="3.8" ry="4.3" fill="#FFC000"/>
<ellipse cx="1602.87" cy="802.46" rx="3.8" ry="4.3" fill="#FFC000"/>
<ellipse cx="1617.57" cy="802.65" rx="3.8" ry="4.3" fill="#FFC000"/>
<ellipse cx="1632.27" cy="802.85" rx="3.8" ry="4.3" fill="#FFC000"/>
<ellipse cx="1646.97" cy="803.07" rx="3.8" ry="4.3" fill="#FFC000"/>
<ellipse cx="1661.67" cy="803.28" rx="3.8" ry="4.3" fill="#FFC000"/>
<ellipse cx="1676.37" cy="803.49" rx="3.8" ry="4.3" fill="#FFC000"/>
<ellipse cx="1691.07" cy="803.69" rx="3.8" ry="4.3" fill="#FFC000"/>
<ellipse cx="1705.77" cy="803.87" rx="3.8" ry="4.3" fill="#FFC000"/>
<ellipse cx="1720.47" cy="804.04" rx="3.8" ry="4.3" fill="#FFC000"/>
<ellipse cx="1735.17" cy="804.20" rx="3.8" ry="4.3" fill="#FFC000"/>
<ellipse cx="1749.87" cy="804.36" rx="3.8" ry="4.3" fill="#FFC000"/>
<ellipse cx="1764.56" cy="804.51" rx="3.8" ry="4.3" fill="#FFC000"/>
<ellipse cx="1779.26" cy="804.65" rx="3.8" ry="4.3" fill="#FFC000"/>
<ellipse cx="1793.96" cy="804.78" rx="3.8" ry="4.3" fill="#FFC000"/>
<ellipse cx="1808.66" cy="804.90" rx="3.8" ry="4.3" fill="#FFC000"/>
<ellipse cx="1823.36" cy="805.02" rx="3.8" ry="4.3" fill="#FFC000"/>
<ellipse cx="1838.06" cy="805.13" rx="3.8" ry="4.3" fill="#FFC000"/>
<ellipse cx="1852.76" cy="805.24" rx="3.8" ry="4.3" fill="#FFC000"/>
<ellipse cx="1867.46" cy="805.34" rx="3.8" ry="4.3" fill="#FFC000"/>
<ellipse cx="1882.16" cy="805.43" rx="3.8" ry="4.3" fill="#FFC000"/>
<ellipse cx="1896.86" cy="805.50" rx="3.8" ry="4.3" fill="#FFC000"/>
<ellipse cx="1911.56" cy="805.56" rx="3.8" ry="4.3" fill="#FFC000"/>
<ellipse cx="1926.26" cy="805.62" rx="3.8" ry="4.3" fill="#FFC000"/>
<ellipse cx="1940.96" cy="805.68" rx="3.8" ry="4.3" fill="#FFC000"/>
<ellipse cx="1955.66" cy="805.73" rx="3.8" ry="4.3" fill="#FFC000"/>
<ellipse cx="1970.36" cy="805.77" rx="3.8" ry="4.3" fill="#FFC000"/>
<ellipse cx="1985.06" cy="805.81" rx="3.8" ry="4.3" fill="#FFC000"/>
<ellipse cx="1999.76" cy="805.84" rx="3.8" ry="4.3" fill="#FFC000"/>
<g transform="scale(1,0.78)"><polyline points="105.60,1031.83 133.23,1004.57 160.87,878.80 188.50,899.91 216.14,687.07 243.78,683.55 271.41,789.97 299.05,694.99 326.68,519.97 354.31,653.65 381.95,768.86 409.59,803.16 437.22,808.44 464.86,734.56 492.49,629.03 520.12,541.08 547.76,640.46 575.39,604.40 603.03,782.06 630.67,741.60 658.30,782.06 685.94,804.92 713.57,817.24 741.21,833.95 768.84,813.72 796.48,829.55 824.11,787.33 851.75,879.68 879.38,835.71 907.02,910.46 934.65,882.32 962.29,910.46 989.92,916.62 1017.56,947.40 1045.19,957.07 1072.83,951.80 1100.46,975.54 1128.10,1007.21 1155.73,1010.72 1183.37,1022.16 1211.00,1031.83 1238.63,1010.72 1266.27,1003.69 1293.90,1003.69 1321.54,1015.12 1349.17,1004.57 1376.81,1020.40 1404.44,1015.12 1432.08,1022.16 1459.71,1022.16 1487.35,1026.55 1514.98,1024.79 1542.62,1030.95 1570.25,1029.19 1597.89,1029.19 1625.53,1020.40 1653.16,1024.79 1680.80,1024.79 1708.43,1023.92 1736.07,1023.92 1763.70,1030.07 1791.34,1033.59 1818.97,1033.59 1846.61,1033.59 1874.24,1033.59 1901.88,1033.59 1929.51,1033.59 1957.14,1033.59 1984.78,1033.59 2012.41,1033.59" fill="none" stroke="#002168" stroke-width="6.0" stroke-linejoin="round" stroke-linecap="round"/></g>
<ellipse cx="105.60" cy="804.83" rx="5.1" ry="6.4" fill="#4A5C7C"/>
<ellipse cx="133.23" cy="783.56" rx="5.1" ry="6.4" fill="#4A5C7C"/>
<ellipse cx="160.87" cy="685.46" rx="5.1" ry="6.4" fill="#4A5C7C"/>
<ellipse cx="188.50" cy="701.93" rx="5.1" ry="6.4" fill="#4A5C7C"/>
<ellipse cx="216.14" cy="535.92" rx="5.1" ry="6.4" fill="#4A5C7C"/>
<ellipse cx="243.78" cy="533.17" rx="5.1" ry="6.4" fill="#4A5C7C"/>
<ellipse cx="271.41" cy="616.18" rx="5.1" ry="6.4" fill="#4A5C7C"/>
<ellipse cx="299.05" cy="542.09" rx="5.1" ry="6.4" fill="#4A5C7C"/>
<ellipse cx="326.68" cy="405.58" rx="5.1" ry="6.4" fill="#4A5C7C"/>
<ellipse cx="354.31" cy="509.85" rx="5.1" ry="6.4" fill="#4A5C7C"/>
<ellipse cx="381.95" cy="599.71" rx="5.1" ry="6.4" fill="#4A5C7C"/>
<ellipse cx="409.59" cy="626.47" rx="5.1" ry="6.4" fill="#4A5C7C"/>
<ellipse cx="437.22" cy="630.58" rx="5.1" ry="6.4" fill="#4A5C7C"/>
<ellipse cx="464.86" cy="572.96" rx="5.1" ry="6.4" fill="#4A5C7C"/>
<ellipse cx="492.49" cy="490.64" rx="5.1" ry="6.4" fill="#4A5C7C"/>
<ellipse cx="520.12" cy="422.04" rx="5.1" ry="6.4" fill="#4A5C7C"/>
<ellipse cx="547.76" cy="499.56" rx="5.1" ry="6.4" fill="#4A5C7C"/>
<ellipse cx="575.39" cy="471.43" rx="5.1" ry="6.4" fill="#4A5C7C"/>
<ellipse cx="603.03" cy="610.00" rx="5.1" ry="6.4" fill="#4A5C7C"/>
<ellipse cx="630.67" cy="578.45" rx="5.1" ry="6.4" fill="#4A5C7C"/>
<ellipse cx="658.30" cy="610.00" rx="5.1" ry="6.4" fill="#4A5C7C"/>
<ellipse cx="685.94" cy="627.84" rx="5.1" ry="6.4" fill="#4A5C7C"/>
<ellipse cx="713.57" cy="637.44" rx="5.1" ry="6.4" fill="#4A5C7C"/>
<ellipse cx="741.21" cy="650.48" rx="5.1" ry="6.4" fill="#4A5C7C"/>
<ellipse cx="768.84" cy="634.70" rx="5.1" ry="6.4" fill="#4A5C7C"/>
<ellipse cx="796.48" cy="647.05" rx="5.1" ry="6.4" fill="#4A5C7C"/>
<ellipse cx="824.11" cy="614.12" rx="5.1" ry="6.4" fill="#4A5C7C"/>
<ellipse cx="851.75" cy="686.15" rx="5.1" ry="6.4" fill="#4A5C7C"/>
<ellipse cx="879.38" cy="651.85" rx="5.1" ry="6.4" fill="#4A5C7C"/>
<ellipse cx="907.02" cy="710.16" rx="5.1" ry="6.4" fill="#4A5C7C"/>
<ellipse cx="934.65" cy="688.21" rx="5.1" ry="6.4" fill="#4A5C7C"/>
<ellipse cx="962.29" cy="710.16" rx="5.1" ry="6.4" fill="#4A5C7C"/>
<ellipse cx="989.92" cy="714.96" rx="5.1" ry="6.4" fill="#4A5C7C"/>
<ellipse cx="1017.56" cy="738.97" rx="5.1" ry="6.4" fill="#4A5C7C"/>
<ellipse cx="1045.19" cy="746.52" rx="5.1" ry="6.4" fill="#4A5C7C"/>
<ellipse cx="1072.83" cy="742.40" rx="5.1" ry="6.4" fill="#4A5C7C"/>
<ellipse cx="1100.46" cy="760.92" rx="5.1" ry="6.4" fill="#4A5C7C"/>
<ellipse cx="1128.10" cy="785.62" rx="5.1" ry="6.4" fill="#4A5C7C"/>
<ellipse cx="1155.73" cy="788.36" rx="5.1" ry="6.4" fill="#4A5C7C"/>
<ellipse cx="1183.37" cy="797.28" rx="5.1" ry="6.4" fill="#4A5C7C"/>
<ellipse cx="1211.00" cy="804.83" rx="5.1" ry="6.4" fill="#4A5C7C"/>
<ellipse cx="1238.63" cy="788.36" rx="5.1" ry="6.4" fill="#4A5C7C"/>
<ellipse cx="1266.27" cy="782.88" rx="5.1" ry="6.4" fill="#4A5C7C"/>
<ellipse cx="1293.90" cy="782.88" rx="5.1" ry="6.4" fill="#4A5C7C"/>
<ellipse cx="1321.54" cy="791.79" rx="5.1" ry="6.4" fill="#4A5C7C"/>
<ellipse cx="1349.17" cy="783.56" rx="5.1" ry="6.4" fill="#4A5C7C"/>
<ellipse cx="1376.81" cy="795.91" rx="5.1" ry="6.4" fill="#4A5C7C"/>
<ellipse cx="1404.44" cy="791.79" rx="5.1" ry="6.4" fill="#4A5C7C"/>
<ellipse cx="1432.08" cy="797.28" rx="5.1" ry="6.4" fill="#4A5C7C"/>
<ellipse cx="1459.71" cy="797.28" rx="5.1" ry="6.4" fill="#4A5C7C"/>
<ellipse cx="1487.35" cy="800.71" rx="5.1" ry="6.4" fill="#4A5C7C"/>
<ellipse cx="1514.98" cy="799.34" rx="5.1" ry="6.4" fill="#4A5C7C"/>
<ellipse cx="1542.62" cy="804.14" rx="5.1" ry="6.4" fill="#4A5C7C"/>
<ellipse cx="1570.25" cy="802.77" rx="5.1" ry="6.4" fill="#4A5C7C"/>
<ellipse cx="1597.89" cy="802.77" rx="5.1" ry="6.4" fill="#4A5C7C"/>
<ellipse cx="1625.53" cy="795.91" rx="5.1" ry="6.4" fill="#4A5C7C"/>
<ellipse cx="1653.16" cy="799.34" rx="5.1" ry="6.4" fill="#4A5C7C"/>
<ellipse cx="1680.80" cy="799.34" rx="5.1" ry="6.4" fill="#4A5C7C"/>
<ellipse cx="1708.43" cy="798.65" rx="5.1" ry="6.4" fill="#4A5C7C"/>
<ellipse cx="1736.07" cy="798.65" rx="5.1" ry="6.4" fill="#4A5C7C"/>
<ellipse cx="1763.70" cy="803.46" rx="5.1" ry="6.4" fill="#4A5C7C"/>
<ellipse cx="1791.34" cy="806.20" rx="5.1" ry="6.4" fill="#4A5C7C"/>
<ellipse cx="1818.97" cy="806.20" rx="5.1" ry="6.4" fill="#4A5C7C"/>
<ellipse cx="1846.61" cy="806.20" rx="5.1" ry="6.4" fill="#4A5C7C"/>
<ellipse cx="1874.24" cy="806.20" rx="5.1" ry="6.4" fill="#4A5C7C"/>
<ellipse cx="1901.88" cy="806.20" rx="5.1" ry="6.4" fill="#4A5C7C"/>
<ellipse cx="1929.51" cy="806.20" rx="5.1" ry="6.4" fill="#4A5C7C"/>
<ellipse cx="1957.14" cy="806.20" rx="5.1" ry="6.4" fill="#4A5C7C"/>
<ellipse cx="1984.78" cy="806.20" rx="5.1" ry="6.4" fill="#4A5C7C"/>
<ellipse cx="2012.41" cy="806.20" rx="5.1" ry="6.4" fill="#4A5C7C"/>
<ellipse cx="114.83" cy="791.21" rx="3.8" ry="4.3" fill="#002168"/>
<ellipse cx="124.82" cy="777.74" rx="3.8" ry="4.3" fill="#002168"/>
<ellipse cx="135.22" cy="764.77" rx="3.8" ry="4.3" fill="#002168"/>
<ellipse cx="147.84" cy="755.45" rx="3.8" ry="4.3" fill="#002168"/>
<ellipse cx="161.17" cy="747.69" rx="3.8" ry="4.3" fill="#002168"/>
<ellipse cx="174.11" cy="738.99" rx="3.8" ry="4.3" fill="#002168"/>
<ellipse cx="186.97" cy="730.09" rx="3.8" ry="4.3" fill="#002168"/>
<ellipse cx="199.52" cy="720.52" rx="3.8" ry="4.3" fill="#002168"/>
<ellipse cx="212.04" cy="710.90" rx="3.8" ry="4.3" fill="#002168"/>
<ellipse cx="224.54" cy="701.23" rx="3.8" ry="4.3" fill="#002168"/>
<ellipse cx="236.87" cy="691.22" rx="3.8" ry="4.3" fill="#002168"/>
<ellipse cx="249.63" cy="682.09" rx="3.8" ry="4.3" fill="#002168"/>
<ellipse cx="262.47" cy="673.14" rx="3.8" ry="4.3" fill="#002168"/>
<ellipse cx="275.04" cy="663.63" rx="3.8" ry="4.3" fill="#002168"/>
<ellipse cx="287.82" cy="654.55" rx="3.8" ry="4.3" fill="#002168"/>
<ellipse cx="300.28" cy="644.80" rx="3.8" ry="4.3" fill="#002168"/>
<ellipse cx="313.34" cy="636.36" rx="3.8" ry="4.3" fill="#002168"/>
<ellipse cx="326.59" cy="628.43" rx="3.8" ry="4.3" fill="#002168"/>
<ellipse cx="339.72" cy="620.16" rx="3.8" ry="4.3" fill="#002168"/>
<ellipse cx="352.97" cy="612.19" rx="3.8" ry="4.3" fill="#002168"/>
<ellipse cx="366.56" cy="605.19" rx="3.8" ry="4.3" fill="#002168"/>
<ellipse cx="380.30" cy="598.69" rx="3.8" ry="4.3" fill="#002168"/>
<ellipse cx="394.22" cy="592.78" rx="3.8" ry="4.3" fill="#002168"/>
<ellipse cx="408.33" cy="587.63" rx="3.8" ry="4.3" fill="#002168"/>
<ellipse cx="422.65" cy="583.47" rx="3.8" ry="4.3" fill="#002168"/>
<ellipse cx="436.78" cy="578.43" rx="3.8" ry="4.3" fill="#002168"/>
<ellipse cx="451.12" cy="574.43" rx="3.8" ry="4.3" fill="#002168"/>
<ellipse cx="465.72" cy="572.26" rx="3.8" ry="4.3" fill="#002168"/>
<ellipse cx="480.32" cy="570.16" rx="3.8" ry="4.3" fill="#002168"/>
<ellipse cx="494.93" cy="568.24" rx="3.8" ry="4.3" fill="#002168"/>
<ellipse cx="509.63" cy="568.16" rx="3.8" ry="4.3" fill="#002168"/>
<ellipse cx="524.33" cy="568.16" rx="3.8" ry="4.3" fill="#002168"/>
<ellipse cx="539.03" cy="568.21" rx="3.8" ry="4.3" fill="#002168"/>
<ellipse cx="553.69" cy="569.46" rx="3.8" ry="4.3" fill="#002168"/>
<ellipse cx="568.30" cy="571.51" rx="3.8" ry="4.3" fill="#002168"/>
<ellipse cx="582.91" cy="573.59" rx="3.8" ry="4.3" fill="#002168"/>
<ellipse cx="597.53" cy="575.54" rx="3.8" ry="4.3" fill="#002168"/>
<ellipse cx="612.12" cy="577.74" rx="3.8" ry="4.3" fill="#002168"/>
<ellipse cx="626.61" cy="580.82" rx="3.8" ry="4.3" fill="#002168"/>
<ellipse cx="641.00" cy="584.55" rx="3.8" ry="4.3" fill="#002168"/>
<ellipse cx="655.33" cy="588.63" rx="3.8" ry="4.3" fill="#002168"/>
<ellipse cx="669.86" cy="591.44" rx="3.8" ry="4.3" fill="#002168"/>
<ellipse cx="684.17" cy="595.59" rx="3.8" ry="4.3" fill="#002168"/>
<ellipse cx="698.35" cy="600.43" rx="3.8" ry="4.3" fill="#002168"/>
<ellipse cx="712.59" cy="605.01" rx="3.8" ry="4.3" fill="#002168"/>
<ellipse cx="726.83" cy="609.58" rx="3.8" ry="4.3" fill="#002168"/>
<ellipse cx="741.07" cy="614.14" rx="3.8" ry="4.3" fill="#002168"/>
<ellipse cx="755.30" cy="618.74" rx="3.8" ry="4.3" fill="#002168"/>
<ellipse cx="769.53" cy="623.33" rx="3.8" ry="4.3" fill="#002168"/>
<ellipse cx="783.78" cy="627.86" rx="3.8" ry="4.3" fill="#002168"/>
<ellipse cx="798.06" cy="632.23" rx="3.8" ry="4.3" fill="#002168"/>
<ellipse cx="812.33" cy="636.65" rx="3.8" ry="4.3" fill="#002168"/>
<ellipse cx="826.53" cy="641.39" rx="3.8" ry="4.3" fill="#002168"/>
<ellipse cx="840.70" cy="646.27" rx="3.8" ry="4.3" fill="#002168"/>
<ellipse cx="854.91" cy="650.96" rx="3.8" ry="4.3" fill="#002168"/>
<ellipse cx="869.21" cy="655.27" rx="3.8" ry="4.3" fill="#002168"/>
<ellipse cx="883.44" cy="659.85" rx="3.8" ry="4.3" fill="#002168"/>
<ellipse cx="897.64" cy="664.63" rx="3.8" ry="4.3" fill="#002168"/>
<ellipse cx="911.84" cy="669.37" rx="3.8" ry="4.3" fill="#002168"/>
<ellipse cx="926.05" cy="674.07" rx="3.8" ry="4.3" fill="#002168"/>
<ellipse cx="940.31" cy="678.53" rx="3.8" ry="4.3" fill="#002168"/>
<ellipse cx="954.68" cy="682.37" rx="3.8" ry="4.3" fill="#002168"/>
<ellipse cx="969.08" cy="686.08" rx="3.8" ry="4.3" fill="#002168"/>
<ellipse cx="983.43" cy="690.08" rx="3.8" ry="4.3" fill="#002168"/>
<ellipse cx="997.75" cy="694.20" rx="3.8" ry="4.3" fill="#002168"/>
<ellipse cx="1012.07" cy="698.37" rx="3.8" ry="4.3" fill="#002168"/>
<ellipse cx="1026.40" cy="702.47" rx="3.8" ry="4.3" fill="#002168"/>
<ellipse cx="1040.76" cy="706.38" rx="3.8" ry="4.3" fill="#002168"/>
<ellipse cx="1055.17" cy="710.02" rx="3.8" ry="4.3" fill="#002168"/>
<ellipse cx="1069.65" cy="713.18" rx="3.8" ry="4.3" fill="#002168"/>
<ellipse cx="1084.14" cy="716.27" rx="3.8" ry="4.3" fill="#002168"/>
<ellipse cx="1098.58" cy="719.74" rx="3.8" ry="4.3" fill="#002168"/>
<ellipse cx="1113.01" cy="723.21" rx="3.8" ry="4.3" fill="#002168"/>
<ellipse cx="1127.50" cy="726.33" rx="3.8" ry="4.3" fill="#002168"/>
<ellipse cx="1142.00" cy="729.37" rx="3.8" ry="4.3" fill="#002168"/>
<ellipse cx="1156.48" cy="732.52" rx="3.8" ry="4.3" fill="#002168"/>
<ellipse cx="1170.97" cy="735.57" rx="3.8" ry="4.3" fill="#002168"/>
<ellipse cx="1185.50" cy="738.36" rx="3.8" ry="4.3" fill="#002168"/>
<ellipse cx="1200.05" cy="740.98" rx="3.8" ry="4.3" fill="#002168"/>
<ellipse cx="1214.63" cy="743.39" rx="3.8" ry="4.3" fill="#002168"/>
<ellipse cx="1229.19" cy="745.89" rx="3.8" ry="4.3" fill="#002168"/>
<ellipse cx="1243.68" cy="748.96" rx="3.8" ry="4.3" fill="#002168"/>
<ellipse cx="1258.19" cy="751.93" rx="3.8" ry="4.3" fill="#002168"/>
<ellipse cx="1272.77" cy="754.22" rx="3.8" ry="4.3" fill="#002168"/>
<ellipse cx="1287.40" cy="756.08" rx="3.8" ry="4.3" fill="#002168"/>
<ellipse cx="1302.06" cy="757.47" rx="3.8" ry="4.3" fill="#002168"/>
<ellipse cx="1316.71" cy="758.84" rx="3.8" ry="4.3" fill="#002168"/>
<ellipse cx="1331.33" cy="760.78" rx="3.8" ry="4.3" fill="#002168"/>
<ellipse cx="1345.93" cy="762.96" rx="3.8" ry="4.3" fill="#002168"/>
<ellipse cx="1360.52" cy="765.13" rx="3.8" ry="4.3" fill="#002168"/>
<ellipse cx="1375.14" cy="767.09" rx="3.8" ry="4.3" fill="#002168"/>
<ellipse cx="1389.80" cy="768.53" rx="3.8" ry="4.3" fill="#002168"/>
<ellipse cx="1404.46" cy="769.83" rx="3.8" ry="4.3" fill="#002168"/>
<ellipse cx="1419.12" cy="771.23" rx="3.8" ry="4.3" fill="#002168"/>
<ellipse cx="1433.77" cy="772.63" rx="3.8" ry="4.3" fill="#002168"/>
<ellipse cx="1448.43" cy="774.05" rx="3.8" ry="4.3" fill="#002168"/>
<ellipse cx="1463.08" cy="775.49" rx="3.8" ry="4.3" fill="#002168"/>
<ellipse cx="1477.74" cy="776.87" rx="3.8" ry="4.3" fill="#002168"/>
<ellipse cx="1492.41" cy="778.12" rx="3.8" ry="4.3" fill="#002168"/>
<ellipse cx="1507.08" cy="779.24" rx="3.8" ry="4.3" fill="#002168"/>
<ellipse cx="1521.76" cy="780.27" rx="3.8" ry="4.3" fill="#002168"/>
<ellipse cx="1536.44" cy="781.25" rx="3.8" ry="4.3" fill="#002168"/>
<ellipse cx="1551.12" cy="782.19" rx="3.8" ry="4.3" fill="#002168"/>
<ellipse cx="1565.80" cy="783.09" rx="3.8" ry="4.3" fill="#002168"/>
<ellipse cx="1580.48" cy="783.95" rx="3.8" ry="4.3" fill="#002168"/>
<ellipse cx="1595.17" cy="784.78" rx="3.8" ry="4.3" fill="#002168"/>
<ellipse cx="1609.85" cy="785.63" rx="3.8" ry="4.3" fill="#002168"/>
<ellipse cx="1624.54" cy="786.51" rx="3.8" ry="4.3" fill="#002168"/>
<ellipse cx="1639.22" cy="787.41" rx="3.8" ry="4.3" fill="#002168"/>
<ellipse cx="1653.90" cy="788.27" rx="3.8" ry="4.3" fill="#002168"/>
<ellipse cx="1668.59" cy="789.07" rx="3.8" ry="4.3" fill="#002168"/>
<ellipse cx="1683.28" cy="789.76" rx="3.8" ry="4.3" fill="#002168"/>
<ellipse cx="1697.97" cy="790.43" rx="3.8" ry="4.3" fill="#002168"/>
<ellipse cx="1712.66" cy="791.13" rx="3.8" ry="4.3" fill="#002168"/>
<ellipse cx="1727.35" cy="791.85" rx="3.8" ry="4.3" fill="#002168"/>
<ellipse cx="1742.04" cy="792.55" rx="3.8" ry="4.3" fill="#002168"/>
<ellipse cx="1756.73" cy="793.18" rx="3.8" ry="4.3" fill="#002168"/>
<ellipse cx="1771.42" cy="793.75" rx="3.8" ry="4.3" fill="#002168"/>
<ellipse cx="1786.11" cy="794.28" rx="3.8" ry="4.3" fill="#002168"/>
<ellipse cx="1800.81" cy="794.77" rx="3.8" ry="4.3" fill="#002168"/>
<ellipse cx="1815.50" cy="795.21" rx="3.8" ry="4.3" fill="#002168"/>
<ellipse cx="1830.20" cy="795.58" rx="3.8" ry="4.3" fill="#002168"/>
<ellipse cx="1844.90" cy="795.91" rx="3.8" ry="4.3" fill="#002168"/>
<ellipse cx="1859.60" cy="796.23" rx="3.8" ry="4.3" fill="#002168"/>
<ellipse cx="1874.29" cy="796.60" rx="3.8" ry="4.3" fill="#002168"/>
<ellipse cx="1888.99" cy="797.08" rx="3.8" ry="4.3" fill="#002168"/>
<ellipse cx="1903.68" cy="797.63" rx="3.8" ry="4.3" fill="#002168"/>
<ellipse cx="1918.38" cy="798.18" rx="3.8" ry="4.3" fill="#002168"/>
<ellipse cx="1933.07" cy="798.66" rx="3.8" ry="4.3" fill="#002168"/>
<ellipse cx="1947.77" cy="799.03" rx="3.8" ry="4.3" fill="#002168"/>
<ellipse cx="1962.47" cy="799.34" rx="3.8" ry="4.3" fill="#002168"/>
<ellipse cx="1977.16" cy="799.66" rx="3.8" ry="4.3" fill="#002168"/>
<ellipse cx="1991.86" cy="800.04" rx="3.8" ry="4.3" fill="#002168"/>
<ellipse cx="2006.55" cy="800.55" rx="3.8" ry="4.3" fill="#002168"/>
<g transform="scale(1,0.78)"><polyline points="105.60,1033.59 133.23,1033.59 160.87,1033.59 188.50,1033.59 216.14,1033.59 243.78,903.43 271.41,906.94 299.05,926.29 326.68,871.76 354.31,823.39 381.95,716.97 409.59,808.44 437.22,788.21 464.86,749.52 492.49,610.56 520.12,644.86 547.76,665.08 575.39,502.38 603.03,441.69 630.67,591.21 658.30,628.15 685.94,578.89 713.57,554.27 741.21,451.37 768.84,615.83 796.48,673.00 824.11,776.78 851.75,748.64 879.38,811.08 907.02,880.56 934.65,890.23 962.29,953.56 989.92,975.54 1017.56,957.95 1045.19,987.86 1072.83,967.63 1100.46,1010.72 1128.10,989.62 1155.73,1002.81 1183.37,989.62 1211.00,1021.28 1238.63,1023.92 1266.27,1021.28 1293.90,1027.43 1321.54,1022.16 1349.17,1033.59 1376.81,1033.59 1404.44,1033.59 1432.08,1033.59 1459.71,1033.59 1487.35,1033.59 1514.98,1033.59 1542.62,1033.59 1570.25,1033.59 1597.89,1033.59 1625.53,1033.59 1653.16,1033.59 1680.80,1033.59 1708.43,1033.59 1736.07,1033.59 1763.70,1033.59 1791.34,1033.59 1818.97,1033.59 1846.61,1033.59 1874.24,1033.59 1901.88,1033.59 1929.51,1033.59 1957.14,1033.59 1984.78,1033.59 2012.41,1033.59" fill="none" stroke="#FF0000" stroke-width="6.0" stroke-linejoin="round" stroke-linecap="round"/></g>
<ellipse cx="105.60" cy="806.20" rx="5.1" ry="6.4" fill="#FF0000"/>
<ellipse cx="133.23" cy="806.20" rx="5.1" ry="6.4" fill="#FF0000"/>
<ellipse cx="160.87" cy="806.20" rx="5.1" ry="6.4" fill="#FF0000"/>
<ellipse cx="188.50" cy="806.20" rx="5.1" ry="6.4" fill="#FF0000"/>
<ellipse cx="216.14" cy="806.20" rx="5.1" ry="6.4" fill="#FF0000"/>
<ellipse cx="243.78" cy="704.67" rx="5.1" ry="6.4" fill="#FF0000"/>
<ellipse cx="271.41" cy="707.42" rx="5.1" ry="6.4" fill="#FF0000"/>
<ellipse cx="299.05" cy="722.51" rx="5.1" ry="6.4" fill="#FF0000"/>
<ellipse cx="326.68" cy="679.98" rx="5.1" ry="6.4" fill="#FF0000"/>
<ellipse cx="354.31" cy="642.25" rx="5.1" ry="6.4" fill="#FF0000"/>
<ellipse cx="381.95" cy="559.24" rx="5.1" ry="6.4" fill="#FF0000"/>
<ellipse cx="409.59" cy="630.58" rx="5.1" ry="6.4" fill="#FF0000"/>
<ellipse cx="437.22" cy="614.81" rx="5.1" ry="6.4" fill="#FF0000"/>
<ellipse cx="464.86" cy="584.62" rx="5.1" ry="6.4" fill="#FF0000"/>
<ellipse cx="492.49" cy="476.23" rx="5.1" ry="6.4" fill="#FF0000"/>
<ellipse cx="520.12" cy="502.99" rx="5.1" ry="6.4" fill="#FF0000"/>
<ellipse cx="547.76" cy="518.77" rx="5.1" ry="6.4" fill="#FF0000"/>
<ellipse cx="575.39" cy="391.86" rx="5.1" ry="6.4" fill="#FF0000"/>
<ellipse cx="603.03" cy="344.52" rx="5.1" ry="6.4" fill="#FF0000"/>
<ellipse cx="630.67" cy="461.14" rx="5.1" ry="6.4" fill="#FF0000"/>
<ellipse cx="658.30" cy="489.95" rx="5.1" ry="6.4" fill="#FF0000"/>
<ellipse cx="685.94" cy="451.54" rx="5.1" ry="6.4" fill="#FF0000"/>
<ellipse cx="713.57" cy="432.33" rx="5.1" ry="6.4" fill="#FF0000"/>
<ellipse cx="741.21" cy="352.07" rx="5.1" ry="6.4" fill="#FF0000"/>
<ellipse cx="768.84" cy="480.35" rx="5.1" ry="6.4" fill="#FF0000"/>
<ellipse cx="796.48" cy="524.94" rx="5.1" ry="6.4" fill="#FF0000"/>
<ellipse cx="824.11" cy="605.89" rx="5.1" ry="6.4" fill="#FF0000"/>
<ellipse cx="851.75" cy="583.94" rx="5.1" ry="6.4" fill="#FF0000"/>
<ellipse cx="879.38" cy="632.64" rx="5.1" ry="6.4" fill="#FF0000"/>
<ellipse cx="907.02" cy="686.84" rx="5.1" ry="6.4" fill="#FF0000"/>
<ellipse cx="934.65" cy="694.38" rx="5.1" ry="6.4" fill="#FF0000"/>
<ellipse cx="962.29" cy="743.77" rx="5.1" ry="6.4" fill="#FF0000"/>
<ellipse cx="989.92" cy="760.92" rx="5.1" ry="6.4" fill="#FF0000"/>
<ellipse cx="1017.56" cy="747.20" rx="5.1" ry="6.4" fill="#FF0000"/>
<ellipse cx="1045.19" cy="770.53" rx="5.1" ry="6.4" fill="#FF0000"/>
<ellipse cx="1072.83" cy="754.75" rx="5.1" ry="6.4" fill="#FF0000"/>
<ellipse cx="1100.46" cy="788.36" rx="5.1" ry="6.4" fill="#FF0000"/>
<ellipse cx="1128.10" cy="771.90" rx="5.1" ry="6.4" fill="#FF0000"/>
<ellipse cx="1155.73" cy="782.19" rx="5.1" ry="6.4" fill="#FF0000"/>
<ellipse cx="1183.37" cy="771.90" rx="5.1" ry="6.4" fill="#FF0000"/>
<ellipse cx="1211.00" cy="796.60" rx="5.1" ry="6.4" fill="#FF0000"/>
<ellipse cx="1238.63" cy="798.65" rx="5.1" ry="6.4" fill="#FF0000"/>
<ellipse cx="1266.27" cy="796.60" rx="5.1" ry="6.4" fill="#FF0000"/>
<ellipse cx="1293.90" cy="801.40" rx="5.1" ry="6.4" fill="#FF0000"/>
<ellipse cx="1321.54" cy="797.28" rx="5.1" ry="6.4" fill="#FF0000"/>
<ellipse cx="1349.17" cy="806.20" rx="5.1" ry="6.4" fill="#FF0000"/>
<ellipse cx="1376.81" cy="806.20" rx="5.1" ry="6.4" fill="#FF0000"/>
<ellipse cx="1404.44" cy="806.20" rx="5.1" ry="6.4" fill="#FF0000"/>
<ellipse cx="1432.08" cy="806.20" rx="5.1" ry="6.4" fill="#FF0000"/>
<ellipse cx="1459.71" cy="806.20" rx="5.1" ry="6.4" fill="#FF0000"/>
<ellipse cx="1487.35" cy="806.20" rx="5.1" ry="6.4" fill="#FF0000"/>
<ellipse cx="1514.98" cy="806.20" rx="5.1" ry="6.4" fill="#FF0000"/>
<ellipse cx="1542.62" cy="806.20" rx="5.1" ry="6.4" fill="#FF0000"/>
<ellipse cx="1570.25" cy="806.20" rx="5.1" ry="6.4" fill="#FF0000"/>
<ellipse cx="1597.89" cy="806.20" rx="5.1" ry="6.4" fill="#FF0000"/>
<ellipse cx="1625.53" cy="806.20" rx="5.1" ry="6.4" fill="#FF0000"/>
<ellipse cx="1653.16" cy="806.20" rx="5.1" ry="6.4" fill="#FF0000"/>
<ellipse cx="1680.80" cy="806.20" rx="5.1" ry="6.4" fill="#FF0000"/>
<ellipse cx="1708.43" cy="806.20" rx="5.1" ry="6.4" fill="#FF0000"/>
<ellipse cx="1736.07" cy="806.20" rx="5.1" ry="6.4" fill="#FF0000"/>
<ellipse cx="1763.70" cy="806.20" rx="5.1" ry="6.4" fill="#FF0000"/>
<ellipse cx="1791.34" cy="806.20" rx="5.1" ry="6.4" fill="#FF0000"/>
<ellipse cx="1818.97" cy="806.20" rx="5.1" ry="6.4" fill="#FF0000"/>
<ellipse cx="1846.61" cy="806.20" rx="5.1" ry="6.4" fill="#FF0000"/>
<ellipse cx="1874.24" cy="806.20" rx="5.1" ry="6.4" fill="#FF0000"/>
<ellipse cx="1901.88" cy="806.20" rx="5.1" ry="6.4" fill="#FF0000"/>
<ellipse cx="1929.51" cy="806.20" rx="5.1" ry="6.4" fill="#FF0000"/>
<ellipse cx="1957.14" cy="806.20" rx="5.1" ry="6.4" fill="#FF0000"/>
<ellipse cx="1984.78" cy="806.20" rx="5.1" ry="6.4" fill="#FF0000"/>
<ellipse cx="2012.41" cy="806.20" rx="5.1" ry="6.4" fill="#FF0000"/>
<ellipse cx="200.70" cy="802.65" rx="3.4" ry="4.1" fill="#FF0000"/>
<ellipse cx="214.17" cy="800.33" rx="3.4" ry="4.1" fill="#FF0000"/>
<ellipse cx="227.52" cy="797.07" rx="3.4" ry="4.1" fill="#FF0000"/>
<ellipse cx="240.72" cy="792.99" rx="3.4" ry="4.1" fill="#FF0000"/>
<ellipse cx="253.89" cy="788.76" rx="3.4" ry="4.1" fill="#FF0000"/>
<ellipse cx="266.89" cy="783.76" rx="3.4" ry="4.1" fill="#FF0000"/>
<ellipse cx="279.34" cy="776.94" rx="3.4" ry="4.1" fill="#FF0000"/>
<ellipse cx="291.28" cy="768.80" rx="3.4" ry="4.1" fill="#FF0000"/>
<ellipse cx="303.27" cy="760.80" rx="3.4" ry="4.1" fill="#FF0000"/>
<ellipse cx="314.60" cy="751.40" rx="3.4" ry="4.1" fill="#FF0000"/>
<ellipse cx="325.77" cy="741.70" rx="3.4" ry="4.1" fill="#FF0000"/>
<ellipse cx="336.16" cy="730.74" rx="3.4" ry="4.1" fill="#FF0000"/>
<ellipse cx="346.30" cy="719.42" rx="3.4" ry="4.1" fill="#FF0000"/>
<ellipse cx="356.72" cy="708.49" rx="3.4" ry="4.1" fill="#FF0000"/>
<ellipse cx="366.21" cy="696.32" rx="3.4" ry="4.1" fill="#FF0000"/>
<ellipse cx="375.38" cy="683.77" rx="3.4" ry="4.1" fill="#FF0000"/>
<ellipse cx="384.29" cy="670.93" rx="3.4" ry="4.1" fill="#FF0000"/>
<ellipse cx="393.14" cy="658.02" rx="3.4" ry="4.1" fill="#FF0000"/>
<ellipse cx="402.26" cy="645.42" rx="3.4" ry="4.1" fill="#FF0000"/>
<ellipse cx="410.85" cy="632.23" rx="3.4" ry="4.1" fill="#FF0000"/>
<ellipse cx="419.46" cy="619.08" rx="3.4" ry="4.1" fill="#FF0000"/>
<ellipse cx="428.07" cy="605.91" rx="3.4" ry="4.1" fill="#FF0000"/>
<ellipse cx="437.15" cy="593.26" rx="3.4" ry="4.1" fill="#FF0000"/>
<ellipse cx="445.93" cy="580.28" rx="3.4" ry="4.1" fill="#FF0000"/>
<ellipse cx="454.75" cy="567.34" rx="3.4" ry="4.1" fill="#FF0000"/>
<ellipse cx="463.86" cy="554.72" rx="3.4" ry="4.1" fill="#FF0000"/>
<ellipse cx="472.91" cy="542.03" rx="3.4" ry="4.1" fill="#FF0000"/>
<ellipse cx="481.81" cy="529.17" rx="3.4" ry="4.1" fill="#FF0000"/>
<ellipse cx="491.11" cy="516.78" rx="3.4" ry="4.1" fill="#FF0000"/>
<ellipse cx="501.01" cy="505.12" rx="3.4" ry="4.1" fill="#FF0000"/>
<ellipse cx="510.42" cy="492.86" rx="3.4" ry="4.1" fill="#FF0000"/>
<ellipse cx="520.75" cy="481.81" rx="3.4" ry="4.1" fill="#FF0000"/>
<ellipse cx="531.62" cy="471.59" rx="3.4" ry="4.1" fill="#FF0000"/>
<ellipse cx="542.82" cy="461.95" rx="3.4" ry="4.1" fill="#FF0000"/>
<ellipse cx="554.49" cy="453.24" rx="3.4" ry="4.1" fill="#FF0000"/>
<ellipse cx="566.80" cy="446.01" rx="3.4" ry="4.1" fill="#FF0000"/>
<ellipse cx="579.08" cy="438.76" rx="3.4" ry="4.1" fill="#FF0000"/>
<ellipse cx="592.21" cy="434.36" rx="3.4" ry="4.1" fill="#FF0000"/>
<ellipse cx="605.35" cy="430.07" rx="3.4" ry="4.1" fill="#FF0000"/>
<ellipse cx="618.91" cy="428.91" rx="3.4" ry="4.1" fill="#FF0000"/>
<ellipse cx="632.50" cy="429.32" rx="3.4" ry="4.1" fill="#FF0000"/>
<ellipse cx="645.85" cy="432.50" rx="3.4" ry="4.1" fill="#FF0000"/>
<ellipse cx="659.27" cy="435.21" rx="3.4" ry="4.1" fill="#FF0000"/>
<ellipse cx="671.95" cy="441.32" rx="3.4" ry="4.1" fill="#FF0000"/>
<ellipse cx="684.51" cy="447.81" rx="3.4" ry="4.1" fill="#FF0000"/>
<ellipse cx="696.93" cy="454.75" rx="3.4" ry="4.1" fill="#FF0000"/>
<ellipse cx="709.12" cy="462.29" rx="3.4" ry="4.1" fill="#FF0000"/>
<ellipse cx="721.08" cy="470.38" rx="3.4" ry="4.1" fill="#FF0000"/>
<ellipse cx="732.77" cy="479.06" rx="3.4" ry="4.1" fill="#FF0000"/>
<ellipse cx="744.21" cy="488.25" rx="3.4" ry="4.1" fill="#FF0000"/>
<ellipse cx="755.39" cy="497.93" rx="3.4" ry="4.1" fill="#FF0000"/>
<ellipse cx="766.34" cy="508.01" rx="3.4" ry="4.1" fill="#FF0000"/>
<ellipse cx="777.05" cy="518.49" rx="3.4" ry="4.1" fill="#FF0000"/>
<ellipse cx="787.83" cy="528.85" rx="3.4" ry="4.1" fill="#FF0000"/>
<ellipse cx="798.94" cy="538.65" rx="3.4" ry="4.1" fill="#FF0000"/>
<ellipse cx="810.02" cy="548.50" rx="3.4" ry="4.1" fill="#FF0000"/>
<ellipse cx="820.89" cy="558.73" rx="3.4" ry="4.1" fill="#FF0000"/>
<ellipse cx="831.66" cy="569.10" rx="3.4" ry="4.1" fill="#FF0000"/>
<ellipse cx="842.35" cy="579.61" rx="3.4" ry="4.1" fill="#FF0000"/>
<ellipse cx="853.20" cy="589.86" rx="3.4" ry="4.1" fill="#FF0000"/>
<ellipse cx="864.38" cy="599.54" rx="3.4" ry="4.1" fill="#FF0000"/>
<ellipse cx="875.68" cy="609.00" rx="3.4" ry="4.1" fill="#FF0000"/>
<ellipse cx="887.03" cy="618.37" rx="3.4" ry="4.1" fill="#FF0000"/>
<ellipse cx="898.40" cy="627.69" rx="3.4" ry="4.1" fill="#FF0000"/>
<ellipse cx="909.74" cy="637.07" rx="3.4" ry="4.1" fill="#FF0000"/>
<ellipse cx="920.90" cy="646.78" rx="3.4" ry="4.1" fill="#FF0000"/>
<ellipse cx="932.36" cy="655.95" rx="3.4" ry="4.1" fill="#FF0000"/>
<ellipse cx="944.35" cy="663.95" rx="3.4" ry="4.1" fill="#FF0000"/>
<ellipse cx="956.40" cy="671.83" rx="3.4" ry="4.1" fill="#FF0000"/>
<ellipse cx="968.30" cy="680.07" rx="3.4" ry="4.1" fill="#FF0000"/>
<ellipse cx="980.26" cy="688.16" rx="3.4" ry="4.1" fill="#FF0000"/>
<ellipse cx="992.40" cy="695.83" rx="3.4" ry="4.1" fill="#FF0000"/>
<ellipse cx="1004.50" cy="703.58" rx="3.4" ry="4.1" fill="#FF0000"/>
<ellipse cx="1016.72" cy="711.00" rx="3.4" ry="4.1" fill="#FF0000"/>
<ellipse cx="1029.51" cy="716.79" rx="3.4" ry="4.1" fill="#FF0000"/>
<ellipse cx="1042.03" cy="723.41" rx="3.4" ry="4.1" fill="#FF0000"/>
<ellipse cx="1054.84" cy="729.12" rx="3.4" ry="4.1" fill="#FF0000"/>
<ellipse cx="1067.54" cy="735.19" rx="3.4" ry="4.1" fill="#FF0000"/>
<ellipse cx="1080.48" cy="740.41" rx="3.4" ry="4.1" fill="#FF0000"/>
<ellipse cx="1093.45" cy="745.53" rx="3.4" ry="4.1" fill="#FF0000"/>
<ellipse cx="1106.40" cy="750.72" rx="3.4" ry="4.1" fill="#FF0000"/>
<ellipse cx="1119.54" cy="755.10" rx="3.4" ry="4.1" fill="#FF0000"/>
<ellipse cx="1132.67" cy="759.49" rx="3.4" ry="4.1" fill="#FF0000"/>
<ellipse cx="1146.02" cy="762.77" rx="3.4" ry="4.1" fill="#FF0000"/>
<ellipse cx="1159.26" cy="766.62" rx="3.4" ry="4.1" fill="#FF0000"/>
<ellipse cx="1172.64" cy="769.71" rx="3.4" ry="4.1" fill="#FF0000"/>
<ellipse cx="1186.06" cy="772.44" rx="3.4" ry="4.1" fill="#FF0000"/>
<ellipse cx="1199.45" cy="775.38" rx="3.4" ry="4.1" fill="#FF0000"/>
<ellipse cx="1212.80" cy="778.64" rx="3.4" ry="4.1" fill="#FF0000"/>
<ellipse cx="1226.24" cy="781.25" rx="3.4" ry="4.1" fill="#FF0000"/>
<ellipse cx="1239.74" cy="783.33" rx="3.4" ry="4.1" fill="#FF0000"/>
<ellipse cx="1253.25" cy="785.20" rx="3.4" ry="4.1" fill="#FF0000"/>
<ellipse cx="1266.81" cy="786.61" rx="3.4" ry="4.1" fill="#FF0000"/>
<ellipse cx="1280.32" cy="788.48" rx="3.4" ry="4.1" fill="#FF0000"/>
<ellipse cx="1293.84" cy="790.33" rx="3.4" ry="4.1" fill="#FF0000"/>
<ellipse cx="1307.41" cy="791.41" rx="3.4" ry="4.1" fill="#FF0000"/>
<ellipse cx="1320.96" cy="792.84" rx="3.4" ry="4.1" fill="#FF0000"/>
<ellipse cx="1334.53" cy="794.01" rx="3.4" ry="4.1" fill="#FF0000"/>
<ellipse cx="1348.11" cy="794.86" rx="3.4" ry="4.1" fill="#FF0000"/>
<ellipse cx="1361.67" cy="796.09" rx="3.4" ry="4.1" fill="#FF0000"/>
<ellipse cx="1375.26" cy="796.84" rx="3.4" ry="4.1" fill="#FF0000"/>
<ellipse cx="1388.83" cy="797.92" rx="3.4" ry="4.1" fill="#FF0000"/>
<ellipse cx="1402.41" cy="798.86" rx="3.4" ry="4.1" fill="#FF0000"/>
<ellipse cx="1416.00" cy="799.52" rx="3.4" ry="4.1" fill="#FF0000"/>
<ellipse cx="1429.59" cy="800.13" rx="3.4" ry="4.1" fill="#FF0000"/>
<ellipse cx="1443.19" cy="800.71" rx="3.4" ry="4.1" fill="#FF0000"/>
<ellipse cx="1456.78" cy="801.26" rx="3.4" ry="4.1" fill="#FF0000"/>
<ellipse cx="1470.37" cy="801.78" rx="3.4" ry="4.1" fill="#FF0000"/>
<ellipse cx="1483.97" cy="802.26" rx="3.4" ry="4.1" fill="#FF0000"/>
<ellipse cx="1497.56" cy="802.70" rx="3.4" ry="4.1" fill="#FF0000"/>
<ellipse cx="1511.16" cy="803.10" rx="3.4" ry="4.1" fill="#FF0000"/>
<ellipse cx="1524.76" cy="803.49" rx="3.4" ry="4.1" fill="#FF0000"/>
<line x1="1745" y1="234.70" x2="1800.5" y2="234.70" stroke="#FFC000" stroke-width="6.4" stroke-linecap="round"/>
<ellipse cx="1771.7" cy="234.70" rx="4.9" ry="6.3" fill="#FFC000"/>
<ellipse cx="1743.80" cy="292.30" rx="3.2" ry="3.9" fill="#FFC000"/>
<ellipse cx="1758.90" cy="292.30" rx="3.2" ry="3.9" fill="#FFC000"/>
<ellipse cx="1774.00" cy="292.30" rx="3.2" ry="3.9" fill="#FFC000"/>
<ellipse cx="1789.10" cy="292.30" rx="3.2" ry="3.9" fill="#FFC000"/>
<line x1="1745" y1="349.90" x2="1800.5" y2="349.90" stroke="#002168" stroke-width="6.4" stroke-linecap="round"/>
<ellipse cx="1771.7" cy="349.90" rx="4.9" ry="6.3" fill="#4A5C7C"/>
<ellipse cx="1743.80" cy="407.50" rx="3.2" ry="3.9" fill="#002168"/>
<ellipse cx="1758.90" cy="407.50" rx="3.2" ry="3.9" fill="#002168"/>
<ellipse cx="1774.00" cy="407.50" rx="3.2" ry="3.9" fill="#002168"/>
<ellipse cx="1789.10" cy="407.50" rx="3.2" ry="3.9" fill="#002168"/>
<line x1="1745" y1="465.10" x2="1800.5" y2="465.10" stroke="#FF0000" stroke-width="6.4" stroke-linecap="round"/>
<ellipse cx="1771.7" cy="465.10" rx="4.9" ry="6.3" fill="#FF0000"/>
<ellipse cx="1743.80" cy="522.70" rx="3.0" ry="3.6" fill="#FF0000"/>
<ellipse cx="1757.50" cy="522.70" rx="3.0" ry="3.6" fill="#FF0000"/>
<ellipse cx="1771.20" cy="522.70" rx="3.0" ry="3.6" fill="#FF0000"/>
<ellipse cx="1784.90" cy="522.70" rx="3.0" ry="3.6" fill="#FF0000"/>
<ellipse cx="1798.60" cy="522.70" rx="3.0" ry="3.6" fill="#FF0000"/>
</svg>
</body></html>
